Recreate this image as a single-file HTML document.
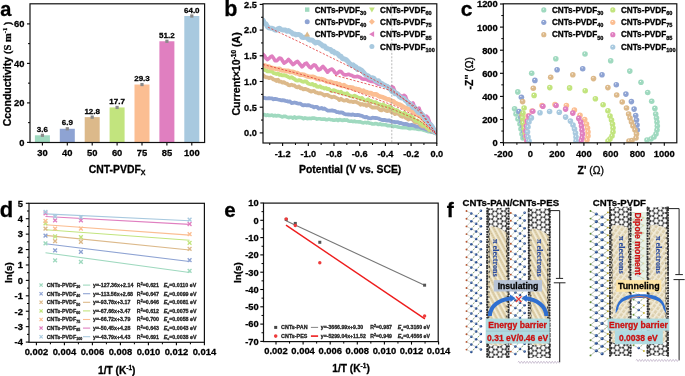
<!DOCTYPE html><html><head><meta charset="utf-8"><style>html,body{margin:0;padding:0;background:#fff;width:685px;height:376px;overflow:hidden}svg{display:block;will-change:transform}</style></head><body>
<svg width="685" height="376" viewBox="0 0 685 376" font-family='"Liberation Sans", sans-serif'>
<rect width="685" height="376" fill="#fff"/>
<defs>
<radialGradient id="sg30" cx="0.4" cy="0.35" r="0.7"><stop offset="0" stop-color="#ffffff"/><stop offset="0.25" stop-color="#9fd9bf"/><stop offset="1" stop-color="#9fd9bf"/></radialGradient>
<radialGradient id="sg40" cx="0.4" cy="0.35" r="0.7"><stop offset="0" stop-color="#ffffff"/><stop offset="0.25" stop-color="#8ea3d3"/><stop offset="1" stop-color="#8ea3d3"/></radialGradient>
<radialGradient id="sg50" cx="0.4" cy="0.35" r="0.7"><stop offset="0" stop-color="#ffffff"/><stop offset="0.25" stop-color="#dcb98a"/><stop offset="1" stop-color="#dcb98a"/></radialGradient>
<radialGradient id="sg60" cx="0.4" cy="0.35" r="0.7"><stop offset="0" stop-color="#ffffff"/><stop offset="0.25" stop-color="#c2e47e"/><stop offset="1" stop-color="#c2e47e"/></radialGradient>
<radialGradient id="sg75" cx="0.4" cy="0.35" r="0.7"><stop offset="0" stop-color="#ffffff"/><stop offset="0.25" stop-color="#fbbe92"/><stop offset="1" stop-color="#fbbe92"/></radialGradient>
<radialGradient id="sg85" cx="0.4" cy="0.35" r="0.7"><stop offset="0" stop-color="#ffffff"/><stop offset="0.25" stop-color="#e07fc0"/><stop offset="1" stop-color="#e07fc0"/></radialGradient>
<radialGradient id="sg100" cx="0.4" cy="0.35" r="0.7"><stop offset="0" stop-color="#ffffff"/><stop offset="0.25" stop-color="#a8c9df"/><stop offset="1" stop-color="#a8c9df"/></radialGradient>
</defs>
<rect x="34.90" y="135.29" width="15.00" height="7.11" fill="#9fd9bf" />
<rect x="40.80" y="133.69" width="3.20" height="3.20" fill="#8a8a8a" />
<text x="42.40" y="131.89" font-size="8" font-weight="bold" text-anchor="middle" fill="#000"  stroke="#000" stroke-width="0.28">3.6</text>
<line x1="42.40" y1="142.50" x2="42.40" y2="145.50" stroke="#000" stroke-width="1.1" />
<text x="42.40" y="156.20" font-size="9.4" font-weight="bold" text-anchor="middle" fill="#000"  stroke="#000" stroke-width="0.28">30</text>
<rect x="59.80" y="128.77" width="15.00" height="13.63" fill="#8ea3d3" />
<rect x="65.70" y="127.17" width="3.20" height="3.20" fill="#8a8a8a" />
<text x="67.30" y="125.37" font-size="8" font-weight="bold" text-anchor="middle" fill="#000"  stroke="#000" stroke-width="0.28">6.9</text>
<line x1="67.30" y1="142.50" x2="67.30" y2="145.50" stroke="#000" stroke-width="1.1" />
<text x="67.30" y="156.20" font-size="9.4" font-weight="bold" text-anchor="middle" fill="#000"  stroke="#000" stroke-width="0.28">40</text>
<rect x="84.70" y="117.12" width="15.00" height="25.28" fill="#dcb98a" />
<rect x="90.60" y="115.52" width="3.20" height="3.20" fill="#8a8a8a" />
<text x="92.20" y="113.72" font-size="8" font-weight="bold" text-anchor="middle" fill="#000"  stroke="#000" stroke-width="0.28">12.8</text>
<line x1="92.20" y1="142.50" x2="92.20" y2="145.50" stroke="#000" stroke-width="1.1" />
<text x="92.20" y="156.20" font-size="9.4" font-weight="bold" text-anchor="middle" fill="#000"  stroke="#000" stroke-width="0.28">50</text>
<rect x="109.60" y="107.44" width="15.00" height="34.96" fill="#c2e47e" />
<rect x="115.50" y="105.84" width="3.20" height="3.20" fill="#8a8a8a" />
<text x="117.10" y="104.04" font-size="8" font-weight="bold" text-anchor="middle" fill="#000"  stroke="#000" stroke-width="0.28">17.7</text>
<line x1="117.10" y1="142.50" x2="117.10" y2="145.50" stroke="#000" stroke-width="1.1" />
<text x="117.10" y="156.20" font-size="9.4" font-weight="bold" text-anchor="middle" fill="#000"  stroke="#000" stroke-width="0.28">60</text>
<rect x="134.50" y="84.53" width="15.00" height="57.87" fill="#fbbe92" />
<rect x="140.40" y="82.93" width="3.20" height="3.20" fill="#8a8a8a" />
<text x="142.00" y="81.13" font-size="8" font-weight="bold" text-anchor="middle" fill="#000"  stroke="#000" stroke-width="0.28">29.3</text>
<line x1="142.00" y1="142.50" x2="142.00" y2="145.50" stroke="#000" stroke-width="1.1" />
<text x="142.00" y="156.20" font-size="9.4" font-weight="bold" text-anchor="middle" fill="#000"  stroke="#000" stroke-width="0.28">75</text>
<rect x="159.40" y="41.28" width="15.00" height="101.12" fill="#e07fc0" />
<rect x="165.30" y="39.68" width="3.20" height="3.20" fill="#8a8a8a" />
<text x="166.90" y="37.88" font-size="8" font-weight="bold" text-anchor="middle" fill="#000"  stroke="#000" stroke-width="0.28">51.2</text>
<line x1="166.90" y1="142.50" x2="166.90" y2="145.50" stroke="#000" stroke-width="1.1" />
<text x="166.90" y="156.20" font-size="9.4" font-weight="bold" text-anchor="middle" fill="#000"  stroke="#000" stroke-width="0.28">85</text>
<rect x="184.30" y="16.00" width="15.00" height="126.40" fill="#a8c9df" />
<rect x="190.20" y="14.40" width="3.20" height="3.20" fill="#8a8a8a" />
<text x="191.80" y="12.60" font-size="8" font-weight="bold" text-anchor="middle" fill="#000"  stroke="#000" stroke-width="0.28">64.0</text>
<line x1="191.80" y1="142.50" x2="191.80" y2="145.50" stroke="#000" stroke-width="1.1" />
<text x="191.80" y="156.20" font-size="9.4" font-weight="bold" text-anchor="middle" fill="#000"  stroke="#000" stroke-width="0.28">100</text>
<rect x="30.00" y="3.80" width="174.60" height="138.70" fill="none" stroke="#111" stroke-width="1.2"/>
<line x1="27.00" y1="142.40" x2="30.00" y2="142.40" stroke="#000" stroke-width="1.1" />
<text x="24.40" y="145.80" font-size="9.4" font-weight="bold" text-anchor="end" fill="#000"  stroke="#000" stroke-width="0.28">0</text>
<line x1="27.00" y1="102.90" x2="30.00" y2="102.90" stroke="#000" stroke-width="1.1" />
<text x="24.40" y="106.30" font-size="9.4" font-weight="bold" text-anchor="end" fill="#000"  stroke="#000" stroke-width="0.28">20</text>
<line x1="27.00" y1="63.40" x2="30.00" y2="63.40" stroke="#000" stroke-width="1.1" />
<text x="24.40" y="66.80" font-size="9.4" font-weight="bold" text-anchor="end" fill="#000"  stroke="#000" stroke-width="0.28">40</text>
<line x1="27.00" y1="23.90" x2="30.00" y2="23.90" stroke="#000" stroke-width="1.1" />
<text x="24.40" y="27.30" font-size="9.4" font-weight="bold" text-anchor="end" fill="#000"  stroke="#000" stroke-width="0.28">60</text>
<line x1="28.00" y1="122.65" x2="30.00" y2="122.65" stroke="#000" stroke-width="1.0" />
<line x1="28.00" y1="83.15" x2="30.00" y2="83.15" stroke="#000" stroke-width="1.0" />
<line x1="28.00" y1="43.65" x2="30.00" y2="43.65" stroke="#000" stroke-width="1.0" />
<text transform="translate(11.2 126.3) rotate(-90)" font-size="10.5" font-weight="bold" fill="#000" stroke="#000" stroke-width="0.28">Cconductivity <tspan font-family='"Liberation Serif", serif'>(S m<tspan font-size="6.5" dy="-4">-1</tspan><tspan dy="4"> )</tspan></tspan></text>
<text x="88.8" y="172.7" font-size="10.4" font-weight="bold" stroke="#000" stroke-width="0.28">CNT-PVDF<tspan font-size="7" dy="2.7">X</tspan></text>
<text x="0.30" y="15.50" font-size="20" font-weight="bold" text-anchor="start" fill="#000"  stroke="#000" stroke-width="0.28">a</text>
<defs><clipPath id="cb"><rect x="263" y="3.8" width="173.8" height="139.2"/></clipPath></defs>
<g clip-path="url(#cb)">
<polyline points="263.0,114.8 264.5,114.6 266.0,115.5 267.5,114.8 269.0,115.5 270.5,115.4 272.0,115.1 273.5,115.9 275.0,115.3 276.5,116.0 278.0,115.6 279.5,115.8 281.0,116.4 282.5,117.0 284.0,116.2 285.5,116.4 287.0,117.1 288.5,117.7 290.0,117.3 291.5,117.2 293.0,118.1 294.5,116.9 296.0,118.2 297.5,117.5 299.0,117.4 300.5,117.5 302.0,117.8 303.5,118.6 305.0,117.8 306.5,118.4 308.0,118.6 309.5,118.3 311.0,118.6 312.5,118.0 314.0,118.1 315.5,118.4 317.0,119.1 318.5,118.8 320.0,118.8 321.5,119.2 323.0,119.1 324.5,119.0 326.0,119.7 327.5,119.7 329.0,119.1 330.5,119.7 332.0,119.7 333.5,120.2 335.0,120.1 336.5,119.6 338.0,120.6 339.5,119.5 341.0,120.0 342.5,120.5 344.0,119.8 345.5,120.3 347.0,119.9 348.5,120.9 350.0,121.2 351.5,121.1 353.0,121.7 354.5,121.1 356.0,121.8 357.5,121.8 359.0,121.9 360.5,121.9 362.0,122.6 363.5,122.9 365.0,122.4 366.5,122.9 368.0,122.2 369.5,123.2 371.0,123.3 372.5,124.0 374.0,124.0 375.5,123.5 377.0,123.8 378.5,124.5 380.0,123.8 381.5,124.6 383.0,124.6 384.5,124.7 386.0,124.9 387.5,125.7 389.0,125.4 390.5,125.7 392.0,126.0 393.5,126.6 395.0,126.1 396.5,126.6 398.0,126.9 399.5,127.3 401.0,127.5 402.5,127.7 404.0,127.4 405.5,127.7 407.0,127.8 408.5,128.4 410.0,128.7 411.5,128.2 413.0,128.4 414.5,128.6 416.0,128.8 417.5,129.2 419.0,129.5 420.5,129.4 422.0,129.5 423.5,130.2 425.0,130.5 426.5,131.0 428.0,131.6 429.5,131.7 431.0,131.9 432.5,132.3 434.0,132.7 435.5,132.5" fill="none" stroke="#9fd9bf" stroke-width="3.6" stroke-linejoin="round" stroke-linecap="round"/>
<polyline points="263.0,97.8 264.5,97.9 266.0,98.3 267.5,98.4 269.0,98.2 270.5,98.4 272.0,98.3 273.5,99.3 275.0,98.8 276.5,99.1 278.0,99.5 279.5,99.8 281.0,100.3 282.5,100.2 284.0,100.4 285.5,100.8 287.0,101.1 288.5,101.7 290.0,101.5 291.5,103.0 293.0,102.9 294.5,102.5 296.0,102.9 297.5,103.3 299.0,103.6 300.5,103.6 302.0,104.9 303.5,105.4 305.0,105.0 306.5,105.3 308.0,105.1 309.5,105.4 311.0,106.1 312.5,106.3 314.0,107.4 315.5,106.8 317.0,106.9 318.5,108.5 320.0,108.3 321.5,108.0 323.0,108.9 324.5,108.5 326.0,109.5 327.5,110.5 329.0,110.6 330.5,110.7 332.0,110.4 333.5,110.9 335.0,110.9 336.5,112.1 338.0,112.1 339.5,112.7 341.0,112.4 342.5,112.6 344.0,113.7 345.5,114.3 347.0,114.3 348.5,114.5 350.0,114.7 351.5,114.9 353.0,114.4 354.5,115.0 356.0,115.1 357.5,114.8 359.0,115.1 360.5,115.7 362.0,115.9 363.5,116.7 365.0,117.3 366.5,116.9 368.0,117.8 369.5,118.1 371.0,118.3 372.5,117.7 374.0,117.8 375.5,118.0 377.0,118.2 378.5,118.5 380.0,119.3 381.5,119.8 383.0,120.0 384.5,119.9 386.0,120.3 387.5,120.7 389.0,120.3 390.5,121.1 392.0,121.6 393.5,121.8 395.0,122.0 396.5,122.1 398.0,122.2 399.5,123.0 401.0,122.9 402.5,123.6 404.0,124.1 405.5,123.9 407.0,124.2 408.5,125.0 410.0,125.1 411.5,125.0 413.0,125.2 414.5,125.6 416.0,126.5 417.5,126.7 419.0,126.5 420.5,127.5 422.0,128.2 423.5,128.4 425.0,128.7 426.5,129.5 428.0,129.7 429.5,130.2 431.0,131.5 432.5,131.8 434.0,132.3 435.5,133.2" fill="none" stroke="#8ea3d3" stroke-width="3.8" stroke-linejoin="round" stroke-linecap="round"/>
<polyline points="263.0,75.1 264.5,76.5 266.0,77.3 267.5,77.3 269.0,78.2 270.5,77.5 272.0,78.2 273.5,79.5 275.0,79.9 276.5,81.0 278.0,79.8 279.5,81.7 281.0,81.7 282.5,82.7 284.0,82.1 285.5,83.4 287.0,83.6 288.5,85.1 290.0,85.3 291.5,84.6 293.0,85.4 294.5,85.5 296.0,87.0 297.5,87.4 299.0,86.4 300.5,88.3 302.0,88.2 303.5,89.4 305.0,88.9 306.5,89.4 308.0,89.8 309.5,90.8 311.0,91.6 312.5,91.1 314.0,90.9 315.5,92.3 317.0,92.6 318.5,93.4 320.0,93.2 321.5,93.6 323.0,94.4 324.5,95.5 326.0,94.8 327.5,94.9 329.0,95.9 330.5,96.5 332.0,97.3 333.5,96.7 335.0,97.1 336.5,97.9 338.0,98.6 339.5,100.0 341.0,98.8 342.5,99.8 344.0,100.7 345.5,100.4 347.0,99.9 348.5,101.2 350.0,101.7 351.5,101.4 353.0,102.1 354.5,101.6 356.0,101.8 357.5,102.7 359.0,103.2 360.5,104.7 362.0,104.0 363.5,104.8 365.0,104.5 366.5,105.9 368.0,105.0 369.5,104.9 371.0,106.7 372.5,107.6 374.0,107.3 375.5,107.5 377.0,107.5 378.5,108.4 380.0,109.9 381.5,110.4 383.0,108.7 384.5,109.8 386.0,110.7 387.5,111.2 389.0,110.2 390.5,111.1 392.0,112.6 393.5,112.5 395.0,114.1 396.5,113.3 398.0,113.6 399.5,114.9 401.0,116.2 402.5,116.9 404.0,115.6 405.5,117.8 407.0,118.4 408.5,119.6 410.0,117.6 411.5,119.0 413.0,119.9 414.5,122.0 416.0,122.5 417.5,121.8 419.0,123.4 420.5,125.2 422.0,126.3 423.5,126.6 425.0,126.0 426.5,128.2 428.0,128.9 429.5,130.2 431.0,128.9 432.5,130.0 434.0,132.1 435.5,132.9" fill="none" stroke="#dcb98a" stroke-width="3.8" stroke-linejoin="round" stroke-linecap="round"/>
<polyline points="263.0,67.9 264.5,69.9 266.0,70.3 267.5,71.4 269.0,71.2 270.5,71.5 272.0,71.2 273.5,73.1 275.0,73.4 276.5,74.0 278.0,73.5 279.5,74.9 281.0,74.8 282.5,75.4 284.0,75.2 285.5,75.6 287.0,76.2 288.5,77.1 290.0,77.8 291.5,77.2 293.0,78.2 294.5,79.0 296.0,80.4 297.5,80.6 299.0,80.1 300.5,80.5 302.0,81.5 303.5,81.8 305.0,81.3 306.5,81.7 308.0,83.5 309.5,84.0 311.0,84.3 312.5,83.9 314.0,85.3 315.5,84.9 317.0,86.7 318.5,86.9 320.0,86.2 321.5,87.5 323.0,87.6 324.5,88.5 326.0,88.0 327.5,89.2 329.0,89.0 330.5,90.5 332.0,91.1 333.5,90.2 335.0,90.6 336.5,91.3 338.0,91.7 339.5,92.6 341.0,91.7 342.5,93.4 344.0,93.5 345.5,94.1 347.0,93.2 348.5,95.0 350.0,95.8 351.5,96.3 353.0,96.5 354.5,95.6 356.0,96.4 357.5,97.4 359.0,97.8 360.5,98.9 362.0,97.9 363.5,99.6 365.0,100.4 366.5,100.5 368.0,99.3 369.5,101.1 371.0,101.0 372.5,101.9 374.0,102.3 375.5,102.1 377.0,103.1 378.5,104.0 380.0,104.4 381.5,105.7 383.0,104.3 384.5,105.5 386.0,106.1 387.5,107.4 389.0,106.2 390.5,107.0 392.0,108.3 393.5,109.2 395.0,110.6 396.5,109.9 398.0,111.1 399.5,112.0 401.0,113.0 402.5,114.2 404.0,112.8 405.5,113.7 407.0,115.6 408.5,115.4 410.0,115.5 411.5,116.7 413.0,117.2 414.5,119.6 416.0,121.0 417.5,120.4 419.0,121.9 420.5,123.3 422.0,123.7 423.5,125.5 425.0,125.2 426.5,127.0 428.0,128.3 429.5,129.7 431.0,129.0 432.5,130.8 434.0,131.8 435.5,133.2" fill="none" stroke="#c2e47e" stroke-width="3.8" stroke-linejoin="round" stroke-linecap="round"/>
<polyline points="263.0,65.4 264.5,65.5 266.0,66.0 267.5,66.6 269.0,66.6 270.5,67.9 272.0,67.9 273.5,68.3 275.0,68.6 276.5,69.0 278.0,69.1 279.5,68.8 281.0,70.2 282.5,70.5 284.0,70.5 285.5,70.8 287.0,71.3 288.5,70.8 290.0,72.1 291.5,71.8 293.0,71.9 294.5,72.5 296.0,73.4 297.5,73.0 299.0,74.1 300.5,74.8 302.0,74.5 303.5,74.8 305.0,75.3 306.5,76.0 308.0,76.5 309.5,76.7 311.0,77.1 312.5,76.7 314.0,77.2 315.5,77.8 317.0,78.9 318.5,78.7 320.0,79.4 321.5,79.1 323.0,79.5 324.5,80.2 326.0,81.2 327.5,81.6 329.0,82.0 330.5,81.8 332.0,82.6 333.5,82.9 335.0,83.3 336.5,83.2 338.0,84.7 339.5,84.1 341.0,85.6 342.5,85.9 344.0,85.1 345.5,86.1 347.0,87.0 348.5,87.6 350.0,87.3 351.5,87.5 353.0,87.8 354.5,89.3 356.0,88.7 357.5,89.6 359.0,89.4 360.5,90.4 362.0,91.4 363.5,90.7 365.0,92.0 366.5,92.0 368.0,93.0 369.5,93.1 371.0,93.0 372.5,94.4 374.0,94.4 375.5,94.3 377.0,94.8 378.5,96.0 380.0,96.5 381.5,96.9 383.0,97.3 384.5,98.0 386.0,98.6 387.5,99.5 389.0,99.4 390.5,100.5 392.0,101.3 393.5,101.4 395.0,102.9 396.5,103.4 398.0,104.3 399.5,104.6 401.0,105.4 402.5,106.2 404.0,107.4 405.5,107.8 407.0,108.4 408.5,109.2 410.0,109.8 411.5,110.5 413.0,111.5 414.5,113.0 416.0,113.4 417.5,114.9 419.0,115.2 420.5,116.3 422.0,118.1 423.5,119.5 425.0,121.2 426.5,123.3 428.0,124.8 429.5,126.4 431.0,127.8 432.5,129.6 434.0,131.2 435.5,132.5" fill="none" stroke="#fbbe92" stroke-width="4.6" stroke-linejoin="round" stroke-linecap="round"/>
<polyline points="263.0,54.2 264.5,55.7 266.0,58.3 267.5,59.6 269.0,58.4 270.5,56.9 272.0,56.1 273.5,58.0 275.0,60.7 276.5,60.8 278.0,59.6 279.5,58.0 281.0,58.4 282.5,60.8 284.0,63.1 285.5,62.2 287.0,61.1 288.5,59.4 290.0,60.9 291.5,62.9 293.0,64.7 294.5,63.5 296.0,62.1 297.5,61.4 299.0,63.2 300.5,65.0 302.0,66.9 303.5,65.5 305.0,63.6 306.5,63.1 308.0,65.2 309.5,67.1 311.0,67.8 312.5,66.1 314.0,64.8 315.5,65.5 317.0,67.7 318.5,70.0 320.0,69.4 321.5,67.8 323.0,66.4 324.5,68.1 326.0,70.1 327.5,72.2 329.0,70.6 330.5,69.4 332.0,69.1 333.5,70.5 335.0,72.6 336.5,73.7 338.0,72.8 339.5,71.4 341.0,71.6 342.5,73.2 344.0,74.7 345.5,74.9 347.0,74.7 348.5,74.2 350.0,74.9 351.5,75.3 353.0,76.2 354.5,76.7 356.0,76.7 357.5,76.2 359.0,77.1 360.5,77.5 362.0,78.8 363.5,79.2 365.0,79.1 366.5,79.3 368.0,80.4 369.5,80.9 371.0,81.4 372.5,81.4 374.0,81.7 375.5,82.3 377.0,83.5 378.5,84.3 380.0,84.6 381.5,84.7 383.0,84.4 384.5,85.1 386.0,85.4 387.5,86.4 389.0,87.4 390.5,88.5 392.0,86.7 393.5,87.8 395.0,91.7 396.5,92.7 398.0,93.8 399.5,94.9 401.0,95.9 402.5,97.0 404.0,95.3 405.5,96.4 407.0,100.5 408.5,101.8 410.0,103.1 411.5,104.4 413.0,102.9 414.5,107.0 416.0,108.3 417.5,109.6 419.0,108.1 420.5,112.3 422.0,114.0 423.5,115.6 425.0,117.3 426.5,116.2 428.0,117.8 429.5,122.2 431.0,124.3 432.5,126.5 434.0,128.8 435.5,131.1" fill="none" stroke="#e07fc0" stroke-width="3.6" stroke-linejoin="round" stroke-linecap="round"/>
<polyline points="263.0,20.1 264.5,23.3 266.0,23.8 267.5,26.8 269.0,27.8 270.5,28.2 272.0,28.3 273.5,28.9 275.0,30.0 276.5,30.2 278.0,28.6 279.5,28.3 281.0,29.5 282.5,30.0 284.0,30.0 285.5,30.1 287.0,31.3 288.5,30.6 290.0,31.6 291.5,32.4 293.0,34.0 294.5,33.9 296.0,34.9 297.5,34.6 299.0,34.6 300.5,35.2 302.0,37.3 303.5,37.4 305.0,37.2 306.5,37.3 308.0,38.9 309.5,39.9 311.0,40.0 312.5,40.3 314.0,41.8 315.5,42.9 317.0,42.2 318.5,42.4 320.0,43.7 321.5,44.7 323.0,46.1 324.5,45.9 326.0,48.0 327.5,48.7 329.0,49.1 330.5,49.4 332.0,51.7 333.5,51.3 335.0,53.1 336.5,53.0 338.0,54.0 339.5,56.2 341.0,56.3 342.5,58.7 344.0,58.8 345.5,59.3 347.0,60.5 348.5,62.1 350.0,63.8 351.5,65.4 353.0,64.8 354.5,66.3 356.0,66.9 357.5,69.4 359.0,68.8 360.5,69.6 362.0,70.6 363.5,72.3 365.0,74.3 366.5,75.2 368.0,75.8 369.5,77.2 371.0,78.0 372.5,77.7 374.0,78.3 375.5,80.7 377.0,81.2 378.5,80.7 380.0,82.8 381.5,83.3 383.0,84.3 384.5,85.2 386.0,85.9 387.5,86.6 389.0,88.2 390.5,89.4 392.0,91.6 393.5,91.0 395.0,93.8 396.5,93.3 398.0,94.7 399.5,96.7 401.0,97.8 402.5,98.1 404.0,98.4 405.5,100.4 407.0,101.5 408.5,103.9 410.0,103.7 411.5,105.4 413.0,107.7 414.5,107.3 416.0,109.4 417.5,111.5 419.0,112.7 420.5,112.6 422.0,114.3 423.5,116.0 425.0,119.3 426.5,119.7 428.0,122.3 429.5,124.2 431.0,125.2 432.5,127.3 434.0,130.9 435.5,132.5" fill="none" stroke="#a8c9df" stroke-width="5.0" stroke-linejoin="round" stroke-linecap="round"/>
<polyline points="268.0,27.2 298.0,41.3 350.0,66.8 391.0,89.0 420.0,112.0 436.0,133.5" fill="none" stroke="#e03a3a" stroke-width="0.8" stroke-dasharray="2.2,1.6"/>
<polyline points="335.0,75.5 345.0,78.0 391.0,90.5 420.0,110.0 436.0,133.5" fill="none" stroke="#e03a3a" stroke-width="0.8" stroke-dasharray="2.2,1.6"/>
<polyline points="263.0,64.5 300.0,74.0 350.0,89.3 395.0,106.0 420.0,118.0 436.0,134.0" fill="none" stroke="#e03a3a" stroke-width="0.8" stroke-dasharray="2.2,1.6"/>
<polyline points="330.0,91.5 345.0,95.5 391.0,108.5 420.0,121.0 436.0,134.0" fill="none" stroke="#e03a3a" stroke-width="0.8" stroke-dasharray="2.2,1.6"/>
</g>
<line x1="391.80" y1="3.80" x2="391.80" y2="143.00" stroke="#888" stroke-width="0.6" stroke-dasharray="2,1.5"/>
<rect x="263.00" y="3.80" width="173.80" height="139.20" fill="none" stroke="#111" stroke-width="1.2"/>
<line x1="259.70" y1="132.90" x2="263.00" y2="132.90" stroke="#000" stroke-width="1.1" />
<text x="256.90" y="136.20" font-size="9.2" font-weight="bold" text-anchor="end" fill="#000"  stroke="#000" stroke-width="0.28">0.0</text>
<line x1="259.70" y1="107.20" x2="263.00" y2="107.20" stroke="#000" stroke-width="1.1" />
<text x="256.90" y="110.50" font-size="9.2" font-weight="bold" text-anchor="end" fill="#000"  stroke="#000" stroke-width="0.28">0.5</text>
<line x1="259.70" y1="81.50" x2="263.00" y2="81.50" stroke="#000" stroke-width="1.1" />
<text x="256.90" y="84.80" font-size="9.2" font-weight="bold" text-anchor="end" fill="#000"  stroke="#000" stroke-width="0.28">1.0</text>
<line x1="259.70" y1="55.80" x2="263.00" y2="55.80" stroke="#000" stroke-width="1.1" />
<text x="256.90" y="59.10" font-size="9.2" font-weight="bold" text-anchor="end" fill="#000"  stroke="#000" stroke-width="0.28">1.5</text>
<line x1="259.70" y1="30.10" x2="263.00" y2="30.10" stroke="#000" stroke-width="1.1" />
<text x="256.90" y="33.40" font-size="9.2" font-weight="bold" text-anchor="end" fill="#000"  stroke="#000" stroke-width="0.28">2.0</text>
<line x1="259.70" y1="4.40" x2="263.00" y2="4.40" stroke="#000" stroke-width="1.1" />
<text x="256.90" y="7.70" font-size="9.2" font-weight="bold" text-anchor="end" fill="#000"  stroke="#000" stroke-width="0.28">2.5</text>
<line x1="261.00" y1="120.05" x2="263.00" y2="120.05" stroke="#000" stroke-width="1.0" />
<line x1="261.00" y1="94.35" x2="263.00" y2="94.35" stroke="#000" stroke-width="1.0" />
<line x1="261.00" y1="68.65" x2="263.00" y2="68.65" stroke="#000" stroke-width="1.0" />
<line x1="261.00" y1="42.95" x2="263.00" y2="42.95" stroke="#000" stroke-width="1.0" />
<line x1="261.00" y1="17.25" x2="263.00" y2="17.25" stroke="#000" stroke-width="1.0" />
<line x1="282.60" y1="143.00" x2="282.60" y2="146.00" stroke="#000" stroke-width="1.1" />
<text x="282.60" y="156.50" font-size="9.2" font-weight="bold" text-anchor="middle" fill="#000"  stroke="#000" stroke-width="0.28">-1.2</text>
<line x1="308.30" y1="143.00" x2="308.30" y2="146.00" stroke="#000" stroke-width="1.1" />
<text x="308.30" y="156.50" font-size="9.2" font-weight="bold" text-anchor="middle" fill="#000"  stroke="#000" stroke-width="0.28">-1.0</text>
<line x1="334.00" y1="143.00" x2="334.00" y2="146.00" stroke="#000" stroke-width="1.1" />
<text x="334.00" y="156.50" font-size="9.2" font-weight="bold" text-anchor="middle" fill="#000"  stroke="#000" stroke-width="0.28">-0.8</text>
<line x1="359.70" y1="143.00" x2="359.70" y2="146.00" stroke="#000" stroke-width="1.1" />
<text x="359.70" y="156.50" font-size="9.2" font-weight="bold" text-anchor="middle" fill="#000"  stroke="#000" stroke-width="0.28">-0.6</text>
<line x1="385.40" y1="143.00" x2="385.40" y2="146.00" stroke="#000" stroke-width="1.1" />
<text x="385.40" y="156.50" font-size="9.2" font-weight="bold" text-anchor="middle" fill="#000"  stroke="#000" stroke-width="0.28">-0.4</text>
<line x1="411.10" y1="143.00" x2="411.10" y2="146.00" stroke="#000" stroke-width="1.1" />
<text x="411.10" y="156.50" font-size="9.2" font-weight="bold" text-anchor="middle" fill="#000"  stroke="#000" stroke-width="0.28">-0.2</text>
<line x1="436.80" y1="143.00" x2="436.80" y2="146.00" stroke="#000" stroke-width="1.1" />
<text x="436.80" y="156.50" font-size="9.2" font-weight="bold" text-anchor="middle" fill="#000"  stroke="#000" stroke-width="0.28">0.0</text>
<line x1="269.75" y1="143.00" x2="269.75" y2="145.00" stroke="#000" stroke-width="1.0" />
<line x1="295.45" y1="143.00" x2="295.45" y2="145.00" stroke="#000" stroke-width="1.0" />
<line x1="321.15" y1="143.00" x2="321.15" y2="145.00" stroke="#000" stroke-width="1.0" />
<line x1="346.85" y1="143.00" x2="346.85" y2="145.00" stroke="#000" stroke-width="1.0" />
<line x1="372.55" y1="143.00" x2="372.55" y2="145.00" stroke="#000" stroke-width="1.0" />
<line x1="398.25" y1="143.00" x2="398.25" y2="145.00" stroke="#000" stroke-width="1.0" />
<line x1="423.95" y1="143.00" x2="423.95" y2="145.00" stroke="#000" stroke-width="1.0" />
<rect x="305.00" y="7.40" width="4.40" height="4.40" fill="#9fd9bf" />
<text x="314.7" y="12.50" font-size="8.2" font-weight="bold" stroke="#000" stroke-width="0.28">CNTs-PVDF<tspan font-size="5.6" dy="2.4">30</tspan></text>
<circle cx="307.2" cy="21.8" r="2.5" fill="#8ea3d3"/>
<text x="314.7" y="24.70" font-size="8.2" font-weight="bold" stroke="#000" stroke-width="0.28">CNTs-PVDF<tspan font-size="5.6" dy="2.4">40</tspan></text>
<polygon points="307.2,31.400000000000002 310.09999999999997,36.400000000000006 304.3,36.400000000000006" fill="#dcb98a"/>
<text x="314.7" y="37.10" font-size="8.2" font-weight="bold" stroke="#000" stroke-width="0.28">CNTs-PVDF<tspan font-size="5.6" dy="2.4">50</tspan></text>
<polygon points="371.9,12.399999999999999 374.79999999999995,7.3999999999999995 369.0,7.3999999999999995" fill="#c2e47e"/>
<text x="380.1" y="12.50" font-size="8.2" font-weight="bold" stroke="#000" stroke-width="0.28">CNTs-PVDF<tspan font-size="5.6" dy="2.4">60</tspan></text>
<polygon points="371.9,18.8 374.9,21.8 371.9,24.8 368.9,21.8" fill="#fbbe92"/>
<text x="380.1" y="24.70" font-size="8.2" font-weight="bold" stroke="#000" stroke-width="0.28">CNTs-PVDF<tspan font-size="5.6" dy="2.4">75</tspan></text>
<polygon points="369.09999999999997,34.2 374.09999999999997,31.300000000000004 374.09999999999997,37.1" fill="#e07fc0"/>
<text x="380.1" y="37.10" font-size="8.2" font-weight="bold" stroke="#000" stroke-width="0.28">CNTs-PVDF<tspan font-size="5.6" dy="2.4">85</tspan></text>
<circle cx="371.9" cy="46.6" r="2.5" fill="#a8c9df"/>
<text x="380.1" y="49.50" font-size="8.2" font-weight="bold" stroke="#000" stroke-width="0.28">CNTs-PVDF<tspan font-size="5.6" dy="2.4">100</tspan></text>
<text transform="translate(240.2 115.6) rotate(-90)" font-size="10.6" font-weight="bold" stroke="#000" stroke-width="0.28">Current×10<tspan font-size="6.5" dy="-4">-10</tspan><tspan dy="4"> (A)</tspan></text>
<text x="350.20" y="173.40" font-size="10.4" font-weight="bold" text-anchor="middle" fill="#000"  stroke="#000" stroke-width="0.28">Potential (V vs. SCE)</text>
<text x="224.30" y="15.90" font-size="21.5" font-weight="bold" text-anchor="start" fill="#000"  stroke="#000" stroke-width="0.28">b</text>
<defs><clipPath id="cc"><rect x="503.3" y="3.8" width="173.49999999999994" height="139.0"/></clipPath></defs>
<g clip-path="url(#cc)">
<circle cx="514.6" cy="108.8" r="2.8" fill="url(#sg30)"/>
<circle cx="517.8" cy="91.9" r="2.8" fill="url(#sg30)"/>
<circle cx="531.7" cy="73.2" r="2.8" fill="url(#sg30)"/>
<circle cx="555.8" cy="58.8" r="2.8" fill="url(#sg30)"/>
<circle cx="585.0" cy="54.0" r="2.8" fill="url(#sg30)"/>
<circle cx="610.7" cy="60.7" r="2.8" fill="url(#sg30)"/>
<circle cx="629.8" cy="71.1" r="2.8" fill="url(#sg30)"/>
<circle cx="641.0" cy="82.3" r="2.8" fill="url(#sg30)"/>
<circle cx="647.7" cy="92.5" r="2.8" fill="url(#sg30)"/>
<circle cx="651.7" cy="101.2" r="2.8" fill="url(#sg30)"/>
<circle cx="654.9" cy="108.4" r="2.8" fill="url(#sg30)"/>
<circle cx="655.7" cy="114.0" r="2.8" fill="url(#sg30)"/>
<circle cx="656.5" cy="118.0" r="2.8" fill="url(#sg30)"/>
<circle cx="657.0" cy="122.0" r="2.8" fill="url(#sg30)"/>
<circle cx="657.3" cy="126.0" r="2.8" fill="url(#sg30)"/>
<circle cx="657.0" cy="130.0" r="2.8" fill="url(#sg30)"/>
<circle cx="656.0" cy="134.0" r="2.8" fill="url(#sg30)"/>
<circle cx="654.0" cy="137.0" r="2.8" fill="url(#sg30)"/>
<circle cx="651.0" cy="139.0" r="2.8" fill="url(#sg30)"/>
<circle cx="647.0" cy="140.0" r="2.8" fill="url(#sg30)"/>
<circle cx="516.0" cy="114.0" r="2.8" fill="url(#sg30)"/>
<circle cx="518.0" cy="119.0" r="2.8" fill="url(#sg30)"/>
<circle cx="520.0" cy="124.0" r="2.8" fill="url(#sg30)"/>
<circle cx="521.0" cy="129.0" r="2.8" fill="url(#sg30)"/>
<circle cx="522.0" cy="134.0" r="2.8" fill="url(#sg30)"/>
<circle cx="523.0" cy="138.0" r="2.8" fill="url(#sg30)"/>
<circle cx="519.0" cy="111.5" r="2.8" fill="url(#sg40)"/>
<circle cx="521.4" cy="97.2" r="2.8" fill="url(#sg40)"/>
<circle cx="534.9" cy="80.4" r="2.8" fill="url(#sg40)"/>
<circle cx="557.1" cy="69.8" r="2.8" fill="url(#sg40)"/>
<circle cx="582.7" cy="68.7" r="2.8" fill="url(#sg40)"/>
<circle cx="602.0" cy="74.8" r="2.8" fill="url(#sg40)"/>
<circle cx="616.3" cy="84.7" r="2.8" fill="url(#sg40)"/>
<circle cx="625.9" cy="94.1" r="2.8" fill="url(#sg40)"/>
<circle cx="631.4" cy="101.6" r="2.8" fill="url(#sg40)"/>
<circle cx="634.1" cy="109.1" r="2.8" fill="url(#sg40)"/>
<circle cx="635.7" cy="115.5" r="2.8" fill="url(#sg40)"/>
<circle cx="636.5" cy="120.0" r="2.8" fill="url(#sg40)"/>
<circle cx="637.0" cy="125.0" r="2.8" fill="url(#sg40)"/>
<circle cx="637.3" cy="130.0" r="2.8" fill="url(#sg40)"/>
<circle cx="521.0" cy="117.0" r="2.8" fill="url(#sg40)"/>
<circle cx="522.0" cy="122.0" r="2.8" fill="url(#sg40)"/>
<circle cx="523.0" cy="127.0" r="2.8" fill="url(#sg40)"/>
<circle cx="524.0" cy="132.0" r="2.8" fill="url(#sg40)"/>
<circle cx="525.0" cy="137.0" r="2.8" fill="url(#sg40)"/>
<circle cx="522.6" cy="101.6" r="2.8" fill="url(#sg50)"/>
<circle cx="533.3" cy="88.2" r="2.8" fill="url(#sg50)"/>
<circle cx="550.7" cy="77.2" r="2.8" fill="url(#sg50)"/>
<circle cx="572.8" cy="74.8" r="2.8" fill="url(#sg50)"/>
<circle cx="593.5" cy="78.6" r="2.8" fill="url(#sg50)"/>
<circle cx="607.9" cy="87.6" r="2.8" fill="url(#sg50)"/>
<circle cx="616.7" cy="95.0" r="2.8" fill="url(#sg50)"/>
<circle cx="622.2" cy="102.0" r="2.8" fill="url(#sg50)"/>
<circle cx="626.5" cy="108.0" r="2.8" fill="url(#sg50)"/>
<circle cx="628.6" cy="114.0" r="2.8" fill="url(#sg50)"/>
<circle cx="630.0" cy="118.0" r="2.8" fill="url(#sg50)"/>
<circle cx="631.5" cy="122.0" r="2.8" fill="url(#sg50)"/>
<circle cx="633.0" cy="126.0" r="2.8" fill="url(#sg50)"/>
<circle cx="635.0" cy="130.0" r="2.8" fill="url(#sg50)"/>
<circle cx="636.5" cy="134.0" r="2.8" fill="url(#sg50)"/>
<circle cx="636.0" cy="138.0" r="2.8" fill="url(#sg50)"/>
<circle cx="632.0" cy="140.5" r="2.8" fill="url(#sg50)"/>
<circle cx="629.0" cy="141.0" r="2.8" fill="url(#sg50)"/>
<circle cx="522.0" cy="115.0" r="2.8" fill="url(#sg50)"/>
<circle cx="523.0" cy="120.0" r="2.8" fill="url(#sg50)"/>
<circle cx="524.0" cy="125.0" r="2.8" fill="url(#sg50)"/>
<circle cx="525.0" cy="130.0" r="2.8" fill="url(#sg50)"/>
<circle cx="526.0" cy="135.0" r="2.8" fill="url(#sg50)"/>
<circle cx="527.0" cy="140.0" r="2.8" fill="url(#sg50)"/>
<circle cx="524.1" cy="108.0" r="2.8" fill="url(#sg60)"/>
<circle cx="534.1" cy="95.4" r="2.8" fill="url(#sg60)"/>
<circle cx="549.8" cy="87.6" r="2.8" fill="url(#sg60)"/>
<circle cx="569.6" cy="87.9" r="2.8" fill="url(#sg60)"/>
<circle cx="585.2" cy="90.7" r="2.8" fill="url(#sg60)"/>
<circle cx="595.4" cy="98.8" r="2.8" fill="url(#sg60)"/>
<circle cx="603.1" cy="104.7" r="2.8" fill="url(#sg60)"/>
<circle cx="607.9" cy="110.7" r="2.8" fill="url(#sg60)"/>
<circle cx="610.0" cy="116.0" r="2.8" fill="url(#sg60)"/>
<circle cx="611.5" cy="120.0" r="2.8" fill="url(#sg60)"/>
<circle cx="612.5" cy="124.0" r="2.8" fill="url(#sg60)"/>
<circle cx="613.0" cy="128.0" r="2.8" fill="url(#sg60)"/>
<circle cx="613.0" cy="132.0" r="2.8" fill="url(#sg60)"/>
<circle cx="612.0" cy="136.0" r="2.8" fill="url(#sg60)"/>
<circle cx="610.0" cy="139.0" r="2.8" fill="url(#sg60)"/>
<circle cx="608.0" cy="141.0" r="2.8" fill="url(#sg60)"/>
<circle cx="523.0" cy="113.0" r="2.8" fill="url(#sg60)"/>
<circle cx="522.5" cy="118.0" r="2.8" fill="url(#sg60)"/>
<circle cx="523.0" cy="123.0" r="2.8" fill="url(#sg60)"/>
<circle cx="524.0" cy="128.0" r="2.8" fill="url(#sg60)"/>
<circle cx="525.0" cy="133.0" r="2.8" fill="url(#sg60)"/>
<circle cx="526.0" cy="138.0" r="2.8" fill="url(#sg60)"/>
<circle cx="532.0" cy="111.0" r="2.8" fill="url(#sg75)"/>
<circle cx="542.0" cy="105.5" r="2.8" fill="url(#sg75)"/>
<circle cx="555.0" cy="104.5" r="2.8" fill="url(#sg75)"/>
<circle cx="566.4" cy="105.5" r="2.8" fill="url(#sg75)"/>
<circle cx="574.4" cy="110.0" r="2.8" fill="url(#sg75)"/>
<circle cx="580.0" cy="115.2" r="2.8" fill="url(#sg75)"/>
<circle cx="584.7" cy="119.5" r="2.8" fill="url(#sg75)"/>
<circle cx="586.5" cy="124.0" r="2.8" fill="url(#sg75)"/>
<circle cx="587.5" cy="128.0" r="2.8" fill="url(#sg75)"/>
<circle cx="588.0" cy="132.0" r="2.8" fill="url(#sg75)"/>
<circle cx="588.0" cy="136.0" r="2.8" fill="url(#sg75)"/>
<circle cx="587.0" cy="140.0" r="2.8" fill="url(#sg75)"/>
<circle cx="528.0" cy="116.0" r="2.8" fill="url(#sg75)"/>
<circle cx="527.0" cy="121.0" r="2.8" fill="url(#sg75)"/>
<circle cx="526.0" cy="126.0" r="2.8" fill="url(#sg75)"/>
<circle cx="525.5" cy="131.0" r="2.8" fill="url(#sg75)"/>
<circle cx="526.0" cy="136.0" r="2.8" fill="url(#sg75)"/>
<circle cx="527.0" cy="141.0" r="2.8" fill="url(#sg75)"/>
<circle cx="532.8" cy="111.2" r="2.8" fill="url(#sg85)"/>
<circle cx="542.9" cy="106.3" r="2.8" fill="url(#sg85)"/>
<circle cx="556.1" cy="105.5" r="2.8" fill="url(#sg85)"/>
<circle cx="565.6" cy="109.1" r="2.8" fill="url(#sg85)"/>
<circle cx="572.8" cy="113.1" r="2.8" fill="url(#sg85)"/>
<circle cx="578.8" cy="118.4" r="2.8" fill="url(#sg85)"/>
<circle cx="580.7" cy="122.0" r="2.8" fill="url(#sg85)"/>
<circle cx="581.5" cy="126.0" r="2.8" fill="url(#sg85)"/>
<circle cx="582.0" cy="130.0" r="2.8" fill="url(#sg85)"/>
<circle cx="582.5" cy="134.0" r="2.8" fill="url(#sg85)"/>
<circle cx="582.0" cy="138.0" r="2.8" fill="url(#sg85)"/>
<circle cx="581.0" cy="141.0" r="2.8" fill="url(#sg85)"/>
<circle cx="529.0" cy="116.0" r="2.8" fill="url(#sg85)"/>
<circle cx="527.5" cy="121.0" r="2.8" fill="url(#sg85)"/>
<circle cx="526.5" cy="126.0" r="2.8" fill="url(#sg85)"/>
<circle cx="526.0" cy="131.0" r="2.8" fill="url(#sg85)"/>
<circle cx="526.5" cy="136.0" r="2.8" fill="url(#sg85)"/>
<circle cx="527.0" cy="140.5" r="2.8" fill="url(#sg85)"/>
<circle cx="531.4" cy="117.9" r="2.8" fill="url(#sg100)"/>
<circle cx="540.0" cy="112.8" r="2.8" fill="url(#sg100)"/>
<circle cx="549.6" cy="111.5" r="2.8" fill="url(#sg100)"/>
<circle cx="559.3" cy="112.3" r="2.8" fill="url(#sg100)"/>
<circle cx="565.6" cy="117.1" r="2.8" fill="url(#sg100)"/>
<circle cx="570.4" cy="121.1" r="2.8" fill="url(#sg100)"/>
<circle cx="573.0" cy="125.0" r="2.8" fill="url(#sg100)"/>
<circle cx="574.5" cy="129.0" r="2.8" fill="url(#sg100)"/>
<circle cx="575.5" cy="133.0" r="2.8" fill="url(#sg100)"/>
<circle cx="576.0" cy="137.0" r="2.8" fill="url(#sg100)"/>
<circle cx="576.0" cy="141.0" r="2.8" fill="url(#sg100)"/>
<circle cx="529.0" cy="122.0" r="2.8" fill="url(#sg100)"/>
<circle cx="528.0" cy="127.0" r="2.8" fill="url(#sg100)"/>
<circle cx="527.5" cy="132.0" r="2.8" fill="url(#sg100)"/>
<circle cx="528.0" cy="137.0" r="2.8" fill="url(#sg100)"/>
<circle cx="529.0" cy="141.0" r="2.8" fill="url(#sg100)"/>
</g>
<rect x="503.30" y="3.80" width="173.50" height="139.00" fill="none" stroke="#111" stroke-width="1.2"/>
<line x1="500.00" y1="142.60" x2="503.30" y2="142.60" stroke="#000" stroke-width="1.1" />
<text x="497.80" y="146.00" font-size="9.4" font-weight="bold" text-anchor="end" fill="#000"  stroke="#000" stroke-width="0.28">0</text>
<line x1="500.00" y1="119.50" x2="503.30" y2="119.50" stroke="#000" stroke-width="1.1" />
<text x="497.80" y="122.90" font-size="9.4" font-weight="bold" text-anchor="end" fill="#000"  stroke="#000" stroke-width="0.28">200</text>
<line x1="500.00" y1="96.40" x2="503.30" y2="96.40" stroke="#000" stroke-width="1.1" />
<text x="497.80" y="99.80" font-size="9.4" font-weight="bold" text-anchor="end" fill="#000"  stroke="#000" stroke-width="0.28">400</text>
<line x1="500.00" y1="73.30" x2="503.30" y2="73.30" stroke="#000" stroke-width="1.1" />
<text x="497.80" y="76.70" font-size="9.4" font-weight="bold" text-anchor="end" fill="#000"  stroke="#000" stroke-width="0.28">600</text>
<line x1="500.00" y1="50.20" x2="503.30" y2="50.20" stroke="#000" stroke-width="1.1" />
<text x="497.80" y="53.60" font-size="9.4" font-weight="bold" text-anchor="end" fill="#000"  stroke="#000" stroke-width="0.28">800</text>
<line x1="500.00" y1="27.10" x2="503.30" y2="27.10" stroke="#000" stroke-width="1.1" />
<text x="497.80" y="30.50" font-size="9.4" font-weight="bold" text-anchor="end" fill="#000"  stroke="#000" stroke-width="0.28">1000</text>
<line x1="500.00" y1="4.00" x2="503.30" y2="4.00" stroke="#000" stroke-width="1.1" />
<text x="497.80" y="7.40" font-size="9.4" font-weight="bold" text-anchor="end" fill="#000"  stroke="#000" stroke-width="0.28">1200</text>
<line x1="501.30" y1="131.05" x2="503.30" y2="131.05" stroke="#000" stroke-width="1.0" />
<line x1="501.30" y1="107.95" x2="503.30" y2="107.95" stroke="#000" stroke-width="1.0" />
<line x1="501.30" y1="84.85" x2="503.30" y2="84.85" stroke="#000" stroke-width="1.0" />
<line x1="501.30" y1="61.75" x2="503.30" y2="61.75" stroke="#000" stroke-width="1.0" />
<line x1="501.30" y1="38.65" x2="503.30" y2="38.65" stroke="#000" stroke-width="1.0" />
<line x1="501.30" y1="15.55" x2="503.30" y2="15.55" stroke="#000" stroke-width="1.0" />
<line x1="503.50" y1="142.80" x2="503.50" y2="145.80" stroke="#000" stroke-width="1.1" />
<text x="503.50" y="156.50" font-size="9.4" font-weight="bold" text-anchor="middle" fill="#000"  stroke="#000" stroke-width="0.28">-200</text>
<line x1="530.30" y1="142.80" x2="530.30" y2="145.80" stroke="#000" stroke-width="1.1" />
<text x="530.30" y="156.50" font-size="9.4" font-weight="bold" text-anchor="middle" fill="#000"  stroke="#000" stroke-width="0.28">0</text>
<line x1="557.10" y1="142.80" x2="557.10" y2="145.80" stroke="#000" stroke-width="1.1" />
<text x="557.10" y="156.50" font-size="9.4" font-weight="bold" text-anchor="middle" fill="#000"  stroke="#000" stroke-width="0.28">200</text>
<line x1="583.90" y1="142.80" x2="583.90" y2="145.80" stroke="#000" stroke-width="1.1" />
<text x="583.90" y="156.50" font-size="9.4" font-weight="bold" text-anchor="middle" fill="#000"  stroke="#000" stroke-width="0.28">400</text>
<line x1="610.70" y1="142.80" x2="610.70" y2="145.80" stroke="#000" stroke-width="1.1" />
<text x="610.70" y="156.50" font-size="9.4" font-weight="bold" text-anchor="middle" fill="#000"  stroke="#000" stroke-width="0.28">600</text>
<line x1="637.50" y1="142.80" x2="637.50" y2="145.80" stroke="#000" stroke-width="1.1" />
<text x="637.50" y="156.50" font-size="9.4" font-weight="bold" text-anchor="middle" fill="#000"  stroke="#000" stroke-width="0.28">800</text>
<line x1="664.30" y1="142.80" x2="664.30" y2="145.80" stroke="#000" stroke-width="1.1" />
<text x="664.30" y="156.50" font-size="9.4" font-weight="bold" text-anchor="middle" fill="#000"  stroke="#000" stroke-width="0.28">1000</text>
<line x1="516.90" y1="142.80" x2="516.90" y2="144.80" stroke="#000" stroke-width="1.0" />
<line x1="543.70" y1="142.80" x2="543.70" y2="144.80" stroke="#000" stroke-width="1.0" />
<line x1="570.50" y1="142.80" x2="570.50" y2="144.80" stroke="#000" stroke-width="1.0" />
<line x1="597.30" y1="142.80" x2="597.30" y2="144.80" stroke="#000" stroke-width="1.0" />
<line x1="624.10" y1="142.80" x2="624.10" y2="144.80" stroke="#000" stroke-width="1.0" />
<line x1="650.90" y1="142.80" x2="650.90" y2="144.80" stroke="#000" stroke-width="1.0" />
<circle cx="543.8" cy="9.9" r="2.6" fill="url(#sg30)"/>
<text x="551.9" y="12.50" font-size="8.2" font-weight="bold" stroke="#000" stroke-width="0.28">CNTs-PVDF<tspan font-size="5.6" dy="2.4">30</tspan></text>
<circle cx="543.8" cy="22.3" r="2.6" fill="url(#sg40)"/>
<text x="551.9" y="24.90" font-size="8.2" font-weight="bold" stroke="#000" stroke-width="0.28">CNTs-PVDF<tspan font-size="5.6" dy="2.4">40</tspan></text>
<circle cx="543.8" cy="34.7" r="2.6" fill="url(#sg50)"/>
<text x="551.9" y="37.30" font-size="8.2" font-weight="bold" stroke="#000" stroke-width="0.28">CNTs-PVDF<tspan font-size="5.6" dy="2.4">50</tspan></text>
<circle cx="612.8" cy="9.9" r="2.6" fill="url(#sg60)"/>
<text x="620.9" y="12.50" font-size="8.2" font-weight="bold" stroke="#000" stroke-width="0.28">CNTs-PVDF<tspan font-size="5.6" dy="2.4">60</tspan></text>
<circle cx="612.8" cy="22.3" r="2.6" fill="url(#sg75)"/>
<text x="620.9" y="24.90" font-size="8.2" font-weight="bold" stroke="#000" stroke-width="0.28">CNTs-PVDF<tspan font-size="5.6" dy="2.4">75</tspan></text>
<circle cx="612.8" cy="34.7" r="2.6" fill="url(#sg85)"/>
<text x="620.9" y="37.30" font-size="8.2" font-weight="bold" stroke="#000" stroke-width="0.28">CNTs-PVDF<tspan font-size="5.6" dy="2.4">85</tspan></text>
<circle cx="612.8" cy="47.1" r="2.6" fill="url(#sg100)"/>
<text x="620.9" y="49.70" font-size="8.2" font-weight="bold" stroke="#000" stroke-width="0.28">CNTs-PVDF<tspan font-size="5.6" dy="2.4">100</tspan></text>
<text transform="translate(472.8 89.4) rotate(-90)" font-size="10.4" font-weight="bold" stroke="#000" stroke-width="0.28">-Z'' <tspan font-weight="normal">(Ω)</tspan></text>
<text x="577.6" y="174" font-size="10.4" font-weight="bold" stroke="#000" stroke-width="0.28">Z' <tspan font-weight="normal">(Ω)</tspan></text>
<text x="460.80" y="16.20" font-size="21" font-weight="bold" text-anchor="start" fill="#000"  stroke="#000" stroke-width="0.28">c</text>
<line x1="45.50" y1="252.70" x2="189.60" y2="272.54" stroke="#9fd9bf" stroke-width="1.1" />
<line x1="45.50" y1="243.80" x2="189.60" y2="261.49" stroke="#8ea3d3" stroke-width="1.1" />
<line x1="45.50" y1="235.42" x2="189.60" y2="250.03" stroke="#dcb98a" stroke-width="1.1" />
<line x1="45.50" y1="229.71" x2="189.60" y2="240.25" stroke="#c2e47e" stroke-width="1.1" />
<line x1="45.50" y1="224.74" x2="189.60" y2="235.13" stroke="#fbbe92" stroke-width="1.1" />
<line x1="45.50" y1="216.50" x2="189.60" y2="224.36" stroke="#e07fc0" stroke-width="1.1" />
<line x1="45.50" y1="213.91" x2="189.60" y2="220.73" stroke="#a8c9df" stroke-width="1.1" />
<path d="M43.6,241.5L47.4,245.3M47.4,241.5L43.6,245.3" stroke="#9fd9bf" stroke-width="1.35" fill="none"/>
<path d="M53.2,258.5L57.0,262.3M57.0,258.5L53.2,262.3" stroke="#9fd9bf" stroke-width="1.35" fill="none"/>
<path d="M79.0,260.0L82.8,263.8M82.8,260.0L79.0,263.8" stroke="#9fd9bf" stroke-width="1.35" fill="none"/>
<path d="M187.7,268.9L191.5,272.7M191.5,268.9L187.7,272.7" stroke="#9fd9bf" stroke-width="1.35" fill="none"/>
<path d="M43.6,233.8L47.4,237.6M47.4,233.8L43.6,237.6" stroke="#8ea3d3" stroke-width="1.35" fill="none"/>
<path d="M53.2,248.4L57.0,252.2M57.0,248.4L53.2,252.2" stroke="#8ea3d3" stroke-width="1.35" fill="none"/>
<path d="M79.0,250.0L82.8,253.8M82.8,250.0L79.0,253.8" stroke="#8ea3d3" stroke-width="1.35" fill="none"/>
<path d="M187.7,258.3L191.5,262.1M191.5,258.3L187.7,262.1" stroke="#8ea3d3" stroke-width="1.35" fill="none"/>
<path d="M43.6,226.8L47.4,230.6M47.4,226.8L43.6,230.6" stroke="#dcb98a" stroke-width="1.35" fill="none"/>
<path d="M53.2,239.2L57.0,243.0M57.0,239.2L53.2,243.0" stroke="#dcb98a" stroke-width="1.35" fill="none"/>
<path d="M79.0,239.9L82.8,243.7M82.8,239.9L79.0,243.7" stroke="#dcb98a" stroke-width="1.35" fill="none"/>
<path d="M187.7,246.9L191.5,250.7M191.5,246.9L187.7,250.7" stroke="#dcb98a" stroke-width="1.35" fill="none"/>
<path d="M43.6,221.4L47.4,225.2M47.4,221.4L43.6,225.2" stroke="#c2e47e" stroke-width="1.35" fill="none"/>
<path d="M53.2,234.6L57.0,238.4M57.0,234.6L53.2,238.4" stroke="#c2e47e" stroke-width="1.35" fill="none"/>
<path d="M79.0,235.3L82.8,239.1M82.8,235.3L79.0,239.1" stroke="#c2e47e" stroke-width="1.35" fill="none"/>
<path d="M187.7,241.0L191.5,244.8M191.5,241.0L187.7,244.8" stroke="#c2e47e" stroke-width="1.35" fill="none"/>
<path d="M43.6,219.1L47.4,222.9M47.4,219.1L43.6,222.9" stroke="#fbbe92" stroke-width="1.35" fill="none"/>
<path d="M53.2,226.8L57.0,230.6M57.0,226.8L53.2,230.6" stroke="#fbbe92" stroke-width="1.35" fill="none"/>
<path d="M79.0,226.8L82.8,230.6M82.8,226.8L79.0,230.6" stroke="#fbbe92" stroke-width="1.35" fill="none"/>
<path d="M187.7,232.2L191.5,236.0M191.5,232.2L187.7,236.0" stroke="#fbbe92" stroke-width="1.35" fill="none"/>
<path d="M43.6,211.4L47.4,215.2M47.4,211.4L43.6,215.2" stroke="#e07fc0" stroke-width="1.35" fill="none"/>
<path d="M53.2,218.4L57.0,222.2M57.0,218.4L53.2,222.2" stroke="#e07fc0" stroke-width="1.35" fill="none"/>
<path d="M79.0,218.4L82.8,222.2M82.8,218.4L79.0,222.2" stroke="#e07fc0" stroke-width="1.35" fill="none"/>
<path d="M187.7,222.1L191.5,225.9M191.5,222.1L187.7,225.9" stroke="#e07fc0" stroke-width="1.35" fill="none"/>
<path d="M43.6,209.9L47.4,213.7M47.4,209.9L43.6,213.7" stroke="#a8c9df" stroke-width="1.35" fill="none"/>
<path d="M53.2,214.5L57.0,218.3M57.0,214.5L53.2,218.3" stroke="#a8c9df" stroke-width="1.35" fill="none"/>
<path d="M79.0,215.3L82.8,219.1M82.8,215.3L79.0,219.1" stroke="#a8c9df" stroke-width="1.35" fill="none"/>
<path d="M187.7,217.7L191.5,221.5M191.5,217.7L187.7,221.5" stroke="#a8c9df" stroke-width="1.35" fill="none"/>
<rect x="29.00" y="203.30" width="175.40" height="139.00" fill="none" stroke="#111" stroke-width="1.2"/>
<line x1="25.80" y1="342.08" x2="29.00" y2="342.08" stroke="#000" stroke-width="1.1" />
<text x="22.90" y="345.38" font-size="9.4" font-weight="bold" text-anchor="end" fill="#000"  stroke="#000" stroke-width="0.28">-4</text>
<line x1="25.80" y1="326.66" x2="29.00" y2="326.66" stroke="#000" stroke-width="1.1" />
<text x="22.90" y="329.96" font-size="9.4" font-weight="bold" text-anchor="end" fill="#000"  stroke="#000" stroke-width="0.28">-3</text>
<line x1="25.80" y1="311.24" x2="29.00" y2="311.24" stroke="#000" stroke-width="1.1" />
<text x="22.90" y="314.54" font-size="9.4" font-weight="bold" text-anchor="end" fill="#000"  stroke="#000" stroke-width="0.28">-2</text>
<line x1="25.80" y1="295.82" x2="29.00" y2="295.82" stroke="#000" stroke-width="1.1" />
<text x="22.90" y="299.12" font-size="9.4" font-weight="bold" text-anchor="end" fill="#000"  stroke="#000" stroke-width="0.28">-1</text>
<line x1="25.80" y1="280.40" x2="29.00" y2="280.40" stroke="#000" stroke-width="1.1" />
<text x="22.90" y="283.70" font-size="9.4" font-weight="bold" text-anchor="end" fill="#000"  stroke="#000" stroke-width="0.28">0</text>
<line x1="25.80" y1="264.98" x2="29.00" y2="264.98" stroke="#000" stroke-width="1.1" />
<text x="22.90" y="268.28" font-size="9.4" font-weight="bold" text-anchor="end" fill="#000"  stroke="#000" stroke-width="0.28">1</text>
<line x1="25.80" y1="249.56" x2="29.00" y2="249.56" stroke="#000" stroke-width="1.1" />
<text x="22.90" y="252.86" font-size="9.4" font-weight="bold" text-anchor="end" fill="#000"  stroke="#000" stroke-width="0.28">2</text>
<line x1="25.80" y1="234.14" x2="29.00" y2="234.14" stroke="#000" stroke-width="1.1" />
<text x="22.90" y="237.44" font-size="9.4" font-weight="bold" text-anchor="end" fill="#000"  stroke="#000" stroke-width="0.28">3</text>
<line x1="25.80" y1="218.72" x2="29.00" y2="218.72" stroke="#000" stroke-width="1.1" />
<text x="22.90" y="222.02" font-size="9.4" font-weight="bold" text-anchor="end" fill="#000"  stroke="#000" stroke-width="0.28">4</text>
<line x1="25.80" y1="203.30" x2="29.00" y2="203.30" stroke="#000" stroke-width="1.1" />
<text x="22.90" y="206.60" font-size="9.4" font-weight="bold" text-anchor="end" fill="#000"  stroke="#000" stroke-width="0.28">5</text>
<line x1="27.00" y1="334.37" x2="29.00" y2="334.37" stroke="#000" stroke-width="1.0" />
<line x1="27.00" y1="318.95" x2="29.00" y2="318.95" stroke="#000" stroke-width="1.0" />
<line x1="27.00" y1="303.53" x2="29.00" y2="303.53" stroke="#000" stroke-width="1.0" />
<line x1="27.00" y1="288.11" x2="29.00" y2="288.11" stroke="#000" stroke-width="1.0" />
<line x1="27.00" y1="272.69" x2="29.00" y2="272.69" stroke="#000" stroke-width="1.0" />
<line x1="27.00" y1="257.27" x2="29.00" y2="257.27" stroke="#000" stroke-width="1.0" />
<line x1="27.00" y1="241.85" x2="29.00" y2="241.85" stroke="#000" stroke-width="1.0" />
<line x1="27.00" y1="226.43" x2="29.00" y2="226.43" stroke="#000" stroke-width="1.0" />
<line x1="27.00" y1="211.01" x2="29.00" y2="211.01" stroke="#000" stroke-width="1.0" />
<line x1="36.40" y1="342.30" x2="36.40" y2="345.30" stroke="#000" stroke-width="1.1" />
<text x="36.40" y="355.20" font-size="9.4" font-weight="bold" text-anchor="middle" fill="#000"  stroke="#000" stroke-width="0.28">0.002</text>
<line x1="64.40" y1="342.30" x2="64.40" y2="345.30" stroke="#000" stroke-width="1.1" />
<text x="64.40" y="355.20" font-size="9.4" font-weight="bold" text-anchor="middle" fill="#000"  stroke="#000" stroke-width="0.28">0.004</text>
<line x1="92.40" y1="342.30" x2="92.40" y2="345.30" stroke="#000" stroke-width="1.1" />
<text x="92.40" y="355.20" font-size="9.4" font-weight="bold" text-anchor="middle" fill="#000"  stroke="#000" stroke-width="0.28">0.006</text>
<line x1="120.40" y1="342.30" x2="120.40" y2="345.30" stroke="#000" stroke-width="1.1" />
<text x="120.40" y="355.20" font-size="9.4" font-weight="bold" text-anchor="middle" fill="#000"  stroke="#000" stroke-width="0.28">0.008</text>
<line x1="148.40" y1="342.30" x2="148.40" y2="345.30" stroke="#000" stroke-width="1.1" />
<text x="148.40" y="355.20" font-size="9.4" font-weight="bold" text-anchor="middle" fill="#000"  stroke="#000" stroke-width="0.28">0.010</text>
<line x1="176.40" y1="342.30" x2="176.40" y2="345.30" stroke="#000" stroke-width="1.1" />
<text x="176.40" y="355.20" font-size="9.4" font-weight="bold" text-anchor="middle" fill="#000"  stroke="#000" stroke-width="0.28">0.012</text>
<line x1="204.40" y1="342.30" x2="204.40" y2="345.30" stroke="#000" stroke-width="1.1" />
<text x="204.40" y="355.20" font-size="9.4" font-weight="bold" text-anchor="middle" fill="#000"  stroke="#000" stroke-width="0.28">0.014</text>
<line x1="50.40" y1="342.30" x2="50.40" y2="344.30" stroke="#000" stroke-width="1.0" />
<line x1="78.40" y1="342.30" x2="78.40" y2="344.30" stroke="#000" stroke-width="1.0" />
<line x1="106.40" y1="342.30" x2="106.40" y2="344.30" stroke="#000" stroke-width="1.0" />
<line x1="134.40" y1="342.30" x2="134.40" y2="344.30" stroke="#000" stroke-width="1.0" />
<line x1="162.40" y1="342.30" x2="162.40" y2="344.30" stroke="#000" stroke-width="1.0" />
<line x1="190.40" y1="342.30" x2="190.40" y2="344.30" stroke="#000" stroke-width="1.0" />
<path d="M39.5,283.5L42.7,286.7M42.7,283.5L39.5,286.7" stroke="#9fd9bf" stroke-width="1.2" fill="none"/>
<text x="46.8" y="287.00" font-size="5.3" font-weight="bold" fill="#222" stroke="#222" stroke-width="0.28">CNTs-PVDF<tspan font-size="3.6" dy="1.4">30</tspan></text>
<line x1="83.00" y1="285.10" x2="90.20" y2="285.10" stroke="#9fd9bf" stroke-width="1.1" />
<text x="93" y="287.00" font-size="5.3" font-weight="bold" fill="#222" stroke="#222" stroke-width="0.28">y=-127.36x+2.14</text>
<text x="136.8" y="287.00" font-size="5.3" font-weight="bold" fill="#222" stroke="#222" stroke-width="0.28">R<tspan font-size="3.6" dy="-2">2</tspan><tspan dy="2">=0.621</tspan></text>
<text x="163.7" y="287.00" font-size="5.3" font-weight="bold" fill="#222" stroke="#222" stroke-width="0.28"><tspan font-style="italic">E</tspan><tspan font-size="3.6" dy="1.2">c</tspan><tspan dy="-1.2">=0.0110 eV</tspan></text>
<path d="M39.5,292.1L42.7,295.3M42.7,292.1L39.5,295.3" stroke="#8ea3d3" stroke-width="1.2" fill="none"/>
<text x="46.8" y="295.60" font-size="5.3" font-weight="bold" fill="#222" stroke="#222" stroke-width="0.28">CNTs-PVDF<tspan font-size="3.6" dy="1.4">40</tspan></text>
<line x1="83.00" y1="293.70" x2="90.20" y2="293.70" stroke="#8ea3d3" stroke-width="1.1" />
<text x="93" y="295.60" font-size="5.3" font-weight="bold" fill="#222" stroke="#222" stroke-width="0.28">y=-113.56x+2.68</text>
<text x="136.8" y="295.60" font-size="5.3" font-weight="bold" fill="#222" stroke="#222" stroke-width="0.28">R<tspan font-size="3.6" dy="-2">2</tspan><tspan dy="2">=0.647</tspan></text>
<text x="163.7" y="295.60" font-size="5.3" font-weight="bold" fill="#222" stroke="#222" stroke-width="0.28"><tspan font-style="italic">E</tspan><tspan font-size="3.6" dy="1.2">c</tspan><tspan dy="-1.2">=0.0099 eV</tspan></text>
<path d="M39.5,300.7L42.7,303.9M42.7,300.7L39.5,303.9" stroke="#dcb98a" stroke-width="1.2" fill="none"/>
<text x="46.8" y="304.20" font-size="5.3" font-weight="bold" fill="#222" stroke="#222" stroke-width="0.28">CNTs-PVDF<tspan font-size="3.6" dy="1.4">50</tspan></text>
<line x1="83.00" y1="302.30" x2="90.20" y2="302.30" stroke="#dcb98a" stroke-width="1.1" />
<text x="93" y="304.20" font-size="5.3" font-weight="bold" fill="#222" stroke="#222" stroke-width="0.28">y=-93.78x+3.17</text>
<text x="136.8" y="304.20" font-size="5.3" font-weight="bold" fill="#222" stroke="#222" stroke-width="0.28">R<tspan font-size="3.6" dy="-2">2</tspan><tspan dy="2">=0.646</tspan></text>
<text x="163.7" y="304.20" font-size="5.3" font-weight="bold" fill="#222" stroke="#222" stroke-width="0.28"><tspan font-style="italic">E</tspan><tspan font-size="3.6" dy="1.2">c</tspan><tspan dy="-1.2">=0.0081 eV</tspan></text>
<path d="M39.5,309.3L42.7,312.5M42.7,309.3L39.5,312.5" stroke="#c2e47e" stroke-width="1.2" fill="none"/>
<text x="46.8" y="312.80" font-size="5.3" font-weight="bold" fill="#222" stroke="#222" stroke-width="0.28">CNTs-PVDF<tspan font-size="3.6" dy="1.4">60</tspan></text>
<line x1="83.00" y1="310.90" x2="90.20" y2="310.90" stroke="#c2e47e" stroke-width="1.1" />
<text x="93" y="312.80" font-size="5.3" font-weight="bold" fill="#222" stroke="#222" stroke-width="0.28">y=-67.66x+3.47</text>
<text x="136.8" y="312.80" font-size="5.3" font-weight="bold" fill="#222" stroke="#222" stroke-width="0.28">R<tspan font-size="3.6" dy="-2">2</tspan><tspan dy="2">=0.612</tspan></text>
<text x="163.7" y="312.80" font-size="5.3" font-weight="bold" fill="#222" stroke="#222" stroke-width="0.28"><tspan font-style="italic">E</tspan><tspan font-size="3.6" dy="1.2">c</tspan><tspan dy="-1.2">=0.0075 eV</tspan></text>
<path d="M39.5,317.9L42.7,321.1M42.7,317.9L39.5,321.1" stroke="#fbbe92" stroke-width="1.2" fill="none"/>
<text x="46.8" y="321.40" font-size="5.3" font-weight="bold" fill="#222" stroke="#222" stroke-width="0.28">CNTs-PVDF<tspan font-size="3.6" dy="1.4">75</tspan></text>
<line x1="83.00" y1="319.50" x2="90.20" y2="319.50" stroke="#fbbe92" stroke-width="1.1" />
<text x="93" y="321.40" font-size="5.3" font-weight="bold" fill="#222" stroke="#222" stroke-width="0.28">y=-66.72x+3.79</text>
<text x="136.8" y="321.40" font-size="5.3" font-weight="bold" fill="#222" stroke="#222" stroke-width="0.28">R<tspan font-size="3.6" dy="-2">2</tspan><tspan dy="2">=0.700</tspan></text>
<text x="163.7" y="321.40" font-size="5.3" font-weight="bold" fill="#222" stroke="#222" stroke-width="0.28"><tspan font-style="italic">E</tspan><tspan font-size="3.6" dy="1.2">c</tspan><tspan dy="-1.2">=0.0058 eV</tspan></text>
<path d="M39.5,326.5L42.7,329.7M42.7,326.5L39.5,329.7" stroke="#e07fc0" stroke-width="1.2" fill="none"/>
<text x="46.8" y="330.00" font-size="5.3" font-weight="bold" fill="#222" stroke="#222" stroke-width="0.28">CNTs-PVDF<tspan font-size="3.6" dy="1.4">85</tspan></text>
<line x1="83.00" y1="328.10" x2="90.20" y2="328.10" stroke="#e07fc0" stroke-width="1.1" />
<text x="93" y="330.00" font-size="5.3" font-weight="bold" fill="#222" stroke="#222" stroke-width="0.28">y=-50.45x+4.28</text>
<text x="136.8" y="330.00" font-size="5.3" font-weight="bold" fill="#222" stroke="#222" stroke-width="0.28">R<tspan font-size="3.6" dy="-2">2</tspan><tspan dy="2">=0.643</tspan></text>
<text x="163.7" y="330.00" font-size="5.3" font-weight="bold" fill="#222" stroke="#222" stroke-width="0.28"><tspan font-style="italic">E</tspan><tspan font-size="3.6" dy="1.2">c</tspan><tspan dy="-1.2">=0.0043 eV</tspan></text>
<path d="M39.5,335.1L42.7,338.3M42.7,335.1L39.5,338.3" stroke="#a8c9df" stroke-width="1.2" fill="none"/>
<text x="46.8" y="338.60" font-size="5.3" font-weight="bold" fill="#222" stroke="#222" stroke-width="0.28">CNTs-PVDF<tspan font-size="3.6" dy="1.4">100</tspan></text>
<line x1="83.00" y1="336.70" x2="90.20" y2="336.70" stroke="#a8c9df" stroke-width="1.1" />
<text x="93" y="338.60" font-size="5.3" font-weight="bold" fill="#222" stroke="#222" stroke-width="0.28">y=-43.79x+4.43</text>
<text x="136.8" y="338.60" font-size="5.3" font-weight="bold" fill="#222" stroke="#222" stroke-width="0.28">R<tspan font-size="3.6" dy="-2">2</tspan><tspan dy="2">=0.691</tspan></text>
<text x="163.7" y="338.60" font-size="5.3" font-weight="bold" fill="#222" stroke="#222" stroke-width="0.28"><tspan font-style="italic">E</tspan><tspan font-size="3.6" dy="1.2">c</tspan><tspan dy="-1.2">=0.0038 eV</tspan></text>
<text transform="translate(11.7 283) rotate(-90)" font-size="9.9" font-weight="bold" stroke="#000" stroke-width="0.28">ln(s)</text>
<text x="98" y="373.5" font-size="10.2" font-weight="bold" stroke="#000" stroke-width="0.28">1/T (K<tspan font-size="6.5" dy="-4">-1</tspan><tspan dy="4">)</tspan></text>
<text x="-0.30" y="216.80" font-size="22" font-weight="bold" text-anchor="start" fill="#000"  stroke="#000" stroke-width="0.28">d</text>
<line x1="286.00" y1="220.82" x2="424.60" y2="285.18" stroke="#777" stroke-width="1.1" />
<line x1="286.00" y1="225.14" x2="424.90" y2="318.91" stroke="#ee1c1c" stroke-width="1.4" />
<rect x="284.70" y="217.94" width="3.00" height="3.00" fill="#555" />
<rect x="293.80" y="221.91" width="3.00" height="3.00" fill="#555" />
<rect x="318.30" y="240.77" width="3.00" height="3.00" fill="#555" />
<rect x="423.10" y="283.68" width="3.00" height="3.00" fill="#555" />
<circle cx="286.2" cy="218.9" r="1.7" fill="#ee3b3b"/>
<circle cx="295.3" cy="225.5" r="1.7" fill="#ee3b3b"/>
<circle cx="319.8" cy="262.7" r="1.7" fill="#ee3b3b"/>
<circle cx="424.6" cy="316.0" r="1.7" fill="#ee3b3b"/>
<rect x="263.50" y="203.10" width="174.70" height="138.50" fill="none" stroke="#111" stroke-width="1.2"/>
<line x1="260.30" y1="341.40" x2="263.50" y2="341.40" stroke="#000" stroke-width="1.1" />
<text x="258.60" y="344.70" font-size="9.3" font-weight="bold" text-anchor="end" fill="#000"  stroke="#000" stroke-width="0.28">-70</text>
<line x1="260.30" y1="324.10" x2="263.50" y2="324.10" stroke="#000" stroke-width="1.1" />
<text x="258.60" y="327.40" font-size="9.3" font-weight="bold" text-anchor="end" fill="#000"  stroke="#000" stroke-width="0.28">-60</text>
<line x1="260.30" y1="306.80" x2="263.50" y2="306.80" stroke="#000" stroke-width="1.1" />
<text x="258.60" y="310.10" font-size="9.3" font-weight="bold" text-anchor="end" fill="#000"  stroke="#000" stroke-width="0.28">-50</text>
<line x1="260.30" y1="289.50" x2="263.50" y2="289.50" stroke="#000" stroke-width="1.1" />
<text x="258.60" y="292.80" font-size="9.3" font-weight="bold" text-anchor="end" fill="#000"  stroke="#000" stroke-width="0.28">-40</text>
<line x1="260.30" y1="272.20" x2="263.50" y2="272.20" stroke="#000" stroke-width="1.1" />
<text x="258.60" y="275.50" font-size="9.3" font-weight="bold" text-anchor="end" fill="#000"  stroke="#000" stroke-width="0.28">-30</text>
<line x1="260.30" y1="254.90" x2="263.50" y2="254.90" stroke="#000" stroke-width="1.1" />
<text x="258.60" y="258.20" font-size="9.3" font-weight="bold" text-anchor="end" fill="#000"  stroke="#000" stroke-width="0.28">-20</text>
<line x1="260.30" y1="237.60" x2="263.50" y2="237.60" stroke="#000" stroke-width="1.1" />
<text x="258.60" y="240.90" font-size="9.3" font-weight="bold" text-anchor="end" fill="#000"  stroke="#000" stroke-width="0.28">-10</text>
<line x1="260.30" y1="220.30" x2="263.50" y2="220.30" stroke="#000" stroke-width="1.1" />
<text x="258.60" y="223.60" font-size="9.3" font-weight="bold" text-anchor="end" fill="#000"  stroke="#000" stroke-width="0.28">0</text>
<line x1="260.30" y1="203.00" x2="263.50" y2="203.00" stroke="#000" stroke-width="1.1" />
<text x="258.60" y="206.30" font-size="9.3" font-weight="bold" text-anchor="end" fill="#000"  stroke="#000" stroke-width="0.28">10</text>
<line x1="261.50" y1="332.75" x2="263.50" y2="332.75" stroke="#000" stroke-width="1.0" />
<line x1="261.50" y1="315.45" x2="263.50" y2="315.45" stroke="#000" stroke-width="1.0" />
<line x1="261.50" y1="298.15" x2="263.50" y2="298.15" stroke="#000" stroke-width="1.0" />
<line x1="261.50" y1="280.85" x2="263.50" y2="280.85" stroke="#000" stroke-width="1.0" />
<line x1="261.50" y1="263.55" x2="263.50" y2="263.55" stroke="#000" stroke-width="1.0" />
<line x1="261.50" y1="246.25" x2="263.50" y2="246.25" stroke="#000" stroke-width="1.0" />
<line x1="261.50" y1="228.95" x2="263.50" y2="228.95" stroke="#000" stroke-width="1.0" />
<line x1="261.50" y1="211.65" x2="263.50" y2="211.65" stroke="#000" stroke-width="1.0" />
<line x1="276.00" y1="341.60" x2="276.00" y2="344.60" stroke="#000" stroke-width="1.1" />
<text x="276.00" y="354.20" font-size="9.4" font-weight="bold" text-anchor="middle" fill="#000"  stroke="#000" stroke-width="0.28">0.002</text>
<line x1="303.10" y1="341.60" x2="303.10" y2="344.60" stroke="#000" stroke-width="1.1" />
<text x="303.10" y="354.20" font-size="9.4" font-weight="bold" text-anchor="middle" fill="#000"  stroke="#000" stroke-width="0.28">0.004</text>
<line x1="330.20" y1="341.60" x2="330.20" y2="344.60" stroke="#000" stroke-width="1.1" />
<text x="330.20" y="354.20" font-size="9.4" font-weight="bold" text-anchor="middle" fill="#000"  stroke="#000" stroke-width="0.28">0.006</text>
<line x1="357.30" y1="341.60" x2="357.30" y2="344.60" stroke="#000" stroke-width="1.1" />
<text x="357.30" y="354.20" font-size="9.4" font-weight="bold" text-anchor="middle" fill="#000"  stroke="#000" stroke-width="0.28">0.008</text>
<line x1="384.40" y1="341.60" x2="384.40" y2="344.60" stroke="#000" stroke-width="1.1" />
<text x="384.40" y="354.20" font-size="9.4" font-weight="bold" text-anchor="middle" fill="#000"  stroke="#000" stroke-width="0.28">0.010</text>
<line x1="411.50" y1="341.60" x2="411.50" y2="344.60" stroke="#000" stroke-width="1.1" />
<text x="411.50" y="354.20" font-size="9.4" font-weight="bold" text-anchor="middle" fill="#000"  stroke="#000" stroke-width="0.28">0.012</text>
<line x1="438.60" y1="341.60" x2="438.60" y2="344.60" stroke="#000" stroke-width="1.1" />
<text x="438.60" y="354.20" font-size="9.4" font-weight="bold" text-anchor="middle" fill="#000"  stroke="#000" stroke-width="0.28">0.014</text>
<line x1="289.55" y1="341.60" x2="289.55" y2="343.60" stroke="#000" stroke-width="1.0" />
<line x1="316.65" y1="341.60" x2="316.65" y2="343.60" stroke="#000" stroke-width="1.0" />
<line x1="343.75" y1="341.60" x2="343.75" y2="343.60" stroke="#000" stroke-width="1.0" />
<line x1="370.85" y1="341.60" x2="370.85" y2="343.60" stroke="#000" stroke-width="1.0" />
<line x1="397.95" y1="341.60" x2="397.95" y2="343.60" stroke="#000" stroke-width="1.0" />
<line x1="425.05" y1="341.60" x2="425.05" y2="343.60" stroke="#000" stroke-width="1.0" />
<rect x="274.20" y="325.90" width="3.00" height="3.00" fill="#444" />
<circle cx="275.7" cy="336.1" r="1.8" fill="#ee3b3b"/>
<text x="281.1" y="329.3" font-size="5.4" font-weight="bold" fill="#222" stroke="#222" stroke-width="0.28">CNTs-PAN</text>
<text x="281.1" y="338" font-size="5.4" font-weight="bold" fill="#222" stroke="#222" stroke-width="0.28">CNTs-PES</text>
<line x1="310.90" y1="327.40" x2="318.10" y2="327.40" stroke="#777" stroke-width="0.9" />
<line x1="310.90" y1="336.10" x2="318.10" y2="336.10" stroke="#ee1c1c" stroke-width="1.6" />
<text x="320.8" y="329.30" font-size="5.2" font-weight="bold" fill="#222" stroke="#222" stroke-width="0.28">y=-3666.99x+9.30</text>
<text x="370.2" y="329.30" font-size="5.2" font-weight="bold" fill="#222" stroke="#222" stroke-width="0.28">R<tspan font-size="3.6" dy="-2">2</tspan><tspan dy="2">=0.987</tspan></text>
<text x="397.7" y="329.30" font-size="5.2" font-weight="bold" fill="#222" stroke="#222" stroke-width="0.28"><tspan font-style="italic">E</tspan><tspan font-size="3.6" dy="1.2">c</tspan><tspan dy="-1.2">=0.3160 eV</tspan></text>
<text x="320.8" y="338.00" font-size="5.2" font-weight="bold" fill="#222" stroke="#222" stroke-width="0.28">y=-5299.04x+11.52</text>
<text x="370.2" y="338.00" font-size="5.2" font-weight="bold" fill="#222" stroke="#222" stroke-width="0.28">R<tspan font-size="3.6" dy="-2">2</tspan><tspan dy="2">=0.949</tspan></text>
<text x="397.7" y="338.00" font-size="5.2" font-weight="bold" fill="#222" stroke="#222" stroke-width="0.28"><tspan font-style="italic">E</tspan><tspan font-size="3.6" dy="1.2">c</tspan><tspan dy="-1.2">=0.4566 eV</tspan></text>
<text transform="translate(241.2 283) rotate(-90)" font-size="9.9" font-weight="bold" stroke="#000" stroke-width="0.28">ln(s)</text>
<text x="332.3" y="371.8" font-size="10.2" font-weight="bold" stroke="#000" stroke-width="0.28">1/T (K<tspan font-size="6.5" dy="-4">-1</tspan><tspan dy="4">)</tspan></text>
<text x="224.20" y="217.10" font-size="20.5" font-weight="bold" text-anchor="start" fill="#000"  stroke="#000" stroke-width="0.28">e</text>
<defs>
<pattern id="tanp" width="4.4" height="4.4" patternUnits="userSpaceOnUse" patternTransform="rotate(-28)">
 <rect width="4.4" height="4.4" fill="#e0d2ad"/>
 <rect width="1.6" height="4.4" fill="#f4eedb"/>
 <circle cx="3.1" cy="1.1" r="0.5" fill="#c4b287"/><circle cx="3.1" cy="3.3" r="0.5" fill="#c4b287"/>
</pattern>
<pattern id="tanq" width="4.4" height="4.4" patternUnits="userSpaceOnUse" patternTransform="rotate(35)">
 <rect width="4.4" height="4.4" fill="#ddd0ae"/>
 <rect width="1.5" height="4.4" fill="#f3eedf"/>
 <rect width="4.4" height="1.2" fill="#efe8d4"/>
</pattern>
<pattern id="honey" width="5.023" height="8.700" patternUnits="userSpaceOnUse" patternTransform="rotate(28)">
 <path d="M2.511,0 L2.511,1.450 L0,2.900 L0,5.800 L2.511,7.250 L2.511,8.700 M2.511,1.450 L5.023,2.900 L5.023,5.800 L2.511,7.250" stroke="#555" stroke-width="0.7" fill="none"/>
 <g fill="#2a2a2a"><circle cx="2.511" cy="1.450" r="1.0"/><circle cx="0" cy="2.900" r="1.0"/><circle cx="5.023" cy="2.900" r="1.0"/><circle cx="0" cy="5.800" r="1.0"/><circle cx="5.023" cy="5.800" r="1.0"/><circle cx="2.511" cy="7.250" r="1.0"/></g>
</pattern>
<radialGradient id="bsph" cx="0.38" cy="0.35" r="0.7"><stop offset="0" stop-color="#8fb0e0"/><stop offset="0.45" stop-color="#2f5596"/><stop offset="1" stop-color="#1d3a70"/></radialGradient>
<radialGradient id="dsph" cx="0.38" cy="0.35" r="0.7"><stop offset="0" stop-color="#8a8a8a"/><stop offset="0.5" stop-color="#333"/><stop offset="1" stop-color="#1a1a1a"/></radialGradient>
</defs>
<text x="462.60" y="206.20" font-size="9.6" font-weight="bold" text-anchor="start" fill="#000"  stroke="#000" stroke-width="0.28">CNTs-PAN/CNTs-PES</text>
<path d="M466.5,211.0L471.3,213.5M471.3,213.5L476.1,216.0M476.1,216.0L480.9,218.5M476.1,216.0L480.9,210.8M466.5,218.7L471.3,221.2M466.5,218.7L471.3,213.5M471.3,221.2L476.1,223.7M471.3,221.2L476.1,216.0M476.1,223.7L480.9,226.2M476.1,223.7L480.9,218.5M466.5,226.4L471.3,228.9M466.5,226.4L471.3,221.2M471.3,228.9L476.1,231.4M471.3,228.9L476.1,223.7M476.1,231.4L480.9,233.9M476.1,231.4L480.9,226.2M466.5,234.1L471.3,236.6M466.5,234.1L471.3,228.9M471.3,236.6L476.1,239.1M471.3,236.6L476.1,231.4M476.1,239.1L480.9,241.6M476.1,239.1L480.9,233.9M466.5,241.8L471.3,244.3M466.5,241.8L471.3,236.6M471.3,244.3L476.1,246.8M471.3,244.3L476.1,239.1M476.1,246.8L480.9,249.3M476.1,246.8L480.9,241.6M466.5,249.5L471.3,252.0M466.5,249.5L471.3,244.3M471.3,252.0L476.1,254.5M471.3,252.0L476.1,246.8M476.1,254.5L480.9,257.0M476.1,254.5L480.9,249.3M466.5,257.2L471.3,259.7M466.5,257.2L471.3,252.0M471.3,259.7L476.1,262.2M471.3,259.7L476.1,254.5M476.1,262.2L480.9,264.7M476.1,262.2L480.9,257.0M466.5,264.9L471.3,267.4M466.5,264.9L471.3,259.7M471.3,267.4L476.1,269.9M471.3,267.4L476.1,262.2M476.1,269.9L480.9,272.4M476.1,269.9L480.9,264.7M466.5,272.6L471.3,275.1M466.5,272.6L471.3,267.4M471.3,275.1L476.1,277.6M471.3,275.1L476.1,269.9M476.1,277.6L480.9,280.1M476.1,277.6L480.9,272.4M466.5,280.3L471.3,282.8M466.5,280.3L471.3,275.1M471.3,282.8L476.1,285.3M471.3,282.8L476.1,277.6M476.1,285.3L480.9,287.8M476.1,285.3L480.9,280.1M466.5,288.0L471.3,290.5M466.5,288.0L471.3,282.8M471.3,290.5L476.1,293.0M471.3,290.5L476.1,285.3M476.1,293.0L480.9,295.5M476.1,293.0L480.9,287.8M466.5,295.7L471.3,298.2M466.5,295.7L471.3,290.5M471.3,298.2L476.1,300.7M471.3,298.2L476.1,293.0M476.1,300.7L480.9,303.2M476.1,300.7L480.9,295.5M466.5,303.4L471.3,305.9M466.5,303.4L471.3,298.2M471.3,305.9L476.1,308.4M471.3,305.9L476.1,300.7M476.1,308.4L480.9,310.9M476.1,308.4L480.9,303.2M466.5,311.1L471.3,313.6M466.5,311.1L471.3,305.9M471.3,313.6L476.1,316.1M471.3,313.6L476.1,308.4M476.1,316.1L480.9,318.6M476.1,316.1L480.9,310.9M466.5,318.8L471.3,321.3M466.5,318.8L471.3,313.6M471.3,321.3L476.1,323.8M471.3,321.3L476.1,316.1M476.1,323.8L480.9,326.3M476.1,323.8L480.9,318.6M466.5,326.5L471.3,329.0M466.5,326.5L471.3,321.3M471.3,329.0L476.1,331.5M471.3,329.0L476.1,323.8M476.1,331.5L480.9,334.0M476.1,331.5L480.9,326.3M466.5,334.2L471.3,336.7M466.5,334.2L471.3,329.0M471.3,336.7L476.1,339.2M471.3,336.7L476.1,331.5M476.1,339.2L480.9,341.7M476.1,339.2L480.9,334.0M466.5,341.9L471.3,344.4M466.5,341.9L471.3,336.7M471.3,344.4L476.1,346.9M471.3,344.4L476.1,339.2M476.1,346.9L480.9,349.4M476.1,346.9L480.9,341.7M466.5,349.6L471.3,352.1M466.5,349.6L471.3,344.4M471.3,352.1L476.1,346.9" stroke="#8c9a8c" stroke-width="0.4" fill="none"/>
<g fill="#7ea35e"><circle cx="478.5" cy="213.4" r="0.5"/><circle cx="473.7" cy="218.6" r="0.5"/><circle cx="478.5" cy="221.1" r="0.5"/><circle cx="473.7" cy="226.3" r="0.5"/><circle cx="478.5" cy="228.8" r="0.5"/><circle cx="473.7" cy="234.0" r="0.5"/><circle cx="478.5" cy="236.5" r="0.5"/><circle cx="473.7" cy="241.7" r="0.5"/><circle cx="478.5" cy="244.2" r="0.5"/><circle cx="473.7" cy="249.4" r="0.5"/><circle cx="478.5" cy="251.9" r="0.5"/><circle cx="473.7" cy="257.1" r="0.5"/><circle cx="478.5" cy="259.6" r="0.5"/><circle cx="473.7" cy="264.8" r="0.5"/><circle cx="478.5" cy="267.3" r="0.5"/><circle cx="473.7" cy="272.5" r="0.5"/><circle cx="478.5" cy="275.0" r="0.5"/><circle cx="473.7" cy="280.2" r="0.5"/><circle cx="478.5" cy="282.7" r="0.5"/><circle cx="473.7" cy="287.9" r="0.5"/><circle cx="478.5" cy="290.4" r="0.5"/><circle cx="473.7" cy="295.6" r="0.5"/><circle cx="478.5" cy="298.1" r="0.5"/><circle cx="473.7" cy="303.3" r="0.5"/><circle cx="478.5" cy="305.8" r="0.5"/><circle cx="473.7" cy="311.0" r="0.5"/><circle cx="478.5" cy="313.5" r="0.5"/><circle cx="473.7" cy="318.7" r="0.5"/><circle cx="478.5" cy="321.2" r="0.5"/><circle cx="473.7" cy="326.4" r="0.5"/><circle cx="478.5" cy="328.9" r="0.5"/><circle cx="473.7" cy="334.1" r="0.5"/><circle cx="478.5" cy="336.6" r="0.5"/><circle cx="473.7" cy="341.8" r="0.5"/><circle cx="478.5" cy="344.3" r="0.5"/><circle cx="473.7" cy="349.5" r="0.5"/></g>
<g fill="#b5532d"><circle cx="466.5" cy="211.0" r="0.95"/><circle cx="466.5" cy="218.7" r="0.95"/><circle cx="466.5" cy="226.4" r="0.95"/><circle cx="466.5" cy="234.1" r="0.95"/><circle cx="466.5" cy="241.8" r="0.95"/><circle cx="466.5" cy="249.5" r="0.95"/><circle cx="466.5" cy="257.2" r="0.95"/><circle cx="466.5" cy="264.9" r="0.95"/><circle cx="466.5" cy="272.6" r="0.95"/><circle cx="466.5" cy="280.3" r="0.95"/><circle cx="466.5" cy="288.0" r="0.95"/><circle cx="466.5" cy="295.7" r="0.95"/><circle cx="466.5" cy="303.4" r="0.95"/><circle cx="466.5" cy="311.1" r="0.95"/><circle cx="466.5" cy="318.8" r="0.95"/><circle cx="466.5" cy="326.5" r="0.95"/><circle cx="466.5" cy="334.2" r="0.95"/><circle cx="466.5" cy="341.9" r="0.95"/><circle cx="466.5" cy="349.6" r="0.95"/></g>
<g fill="url(#bsph)"><circle cx="480.9" cy="210.8" r="1.25"/><circle cx="471.3" cy="213.5" r="1.25"/><circle cx="476.1" cy="216.0" r="1.25"/><circle cx="480.9" cy="218.5" r="1.25"/><circle cx="471.3" cy="221.2" r="1.25"/><circle cx="476.1" cy="223.7" r="1.25"/><circle cx="480.9" cy="226.2" r="1.25"/><circle cx="471.3" cy="228.9" r="1.25"/><circle cx="476.1" cy="231.4" r="1.25"/><circle cx="480.9" cy="233.9" r="1.25"/><circle cx="471.3" cy="236.6" r="1.25"/><circle cx="476.1" cy="239.1" r="1.25"/><circle cx="480.9" cy="241.6" r="1.25"/><circle cx="471.3" cy="244.3" r="1.25"/><circle cx="476.1" cy="246.8" r="1.25"/><circle cx="480.9" cy="249.3" r="1.25"/><circle cx="471.3" cy="252.0" r="1.25"/><circle cx="476.1" cy="254.5" r="1.25"/><circle cx="480.9" cy="257.0" r="1.25"/><circle cx="471.3" cy="259.7" r="1.25"/><circle cx="476.1" cy="262.2" r="1.25"/><circle cx="480.9" cy="264.7" r="1.25"/><circle cx="471.3" cy="267.4" r="1.25"/><circle cx="476.1" cy="269.9" r="1.25"/><circle cx="480.9" cy="272.4" r="1.25"/><circle cx="471.3" cy="275.1" r="1.25"/><circle cx="476.1" cy="277.6" r="1.25"/><circle cx="480.9" cy="280.1" r="1.25"/><circle cx="471.3" cy="282.8" r="1.25"/><circle cx="476.1" cy="285.3" r="1.25"/><circle cx="480.9" cy="287.8" r="1.25"/><circle cx="471.3" cy="290.5" r="1.25"/><circle cx="476.1" cy="293.0" r="1.25"/><circle cx="480.9" cy="295.5" r="1.25"/><circle cx="471.3" cy="298.2" r="1.25"/><circle cx="476.1" cy="300.7" r="1.25"/><circle cx="480.9" cy="303.2" r="1.25"/><circle cx="471.3" cy="305.9" r="1.25"/><circle cx="476.1" cy="308.4" r="1.25"/><circle cx="480.9" cy="310.9" r="1.25"/><circle cx="471.3" cy="313.6" r="1.25"/><circle cx="476.1" cy="316.1" r="1.25"/><circle cx="480.9" cy="318.6" r="1.25"/><circle cx="471.3" cy="321.3" r="1.25"/><circle cx="476.1" cy="323.8" r="1.25"/><circle cx="480.9" cy="326.3" r="1.25"/><circle cx="471.3" cy="329.0" r="1.25"/><circle cx="476.1" cy="331.5" r="1.25"/><circle cx="480.9" cy="334.0" r="1.25"/><circle cx="471.3" cy="336.7" r="1.25"/><circle cx="476.1" cy="339.2" r="1.25"/><circle cx="480.9" cy="341.7" r="1.25"/><circle cx="471.3" cy="344.4" r="1.25"/><circle cx="476.1" cy="346.9" r="1.25"/><circle cx="480.9" cy="349.4" r="1.25"/><circle cx="471.3" cy="352.1" r="1.25"/></g>
<path d="M510.8,213.0L515.4,215.5M515.4,215.5L520.0,218.0M520.0,218.0L524.6,220.5M520.0,218.0L524.6,212.8M510.8,220.7L515.4,223.2M510.8,220.7L515.4,215.5M515.4,223.2L520.0,225.7M515.4,223.2L520.0,218.0M520.0,225.7L524.6,228.2M520.0,225.7L524.6,220.5M510.8,228.4L515.4,230.9M510.8,228.4L515.4,223.2M515.4,230.9L520.0,233.4M515.4,230.9L520.0,225.7M520.0,233.4L524.6,235.9M520.0,233.4L524.6,228.2M510.8,236.1L515.4,238.6M510.8,236.1L515.4,230.9M515.4,238.6L520.0,241.1M515.4,238.6L520.0,233.4M520.0,241.1L524.6,243.6M520.0,241.1L524.6,235.9M510.8,243.8L515.4,246.3M510.8,243.8L515.4,238.6M515.4,246.3L520.0,248.8M515.4,246.3L520.0,241.1M520.0,248.8L524.6,251.3M520.0,248.8L524.6,243.6M510.8,251.5L515.4,254.0M510.8,251.5L515.4,246.3M515.4,254.0L520.0,256.5M515.4,254.0L520.0,248.8M520.0,256.5L524.6,259.0M520.0,256.5L524.6,251.3M510.8,259.2L515.4,261.7M510.8,259.2L515.4,254.0M515.4,261.7L520.0,264.2M515.4,261.7L520.0,256.5M520.0,264.2L524.6,266.7M520.0,264.2L524.6,259.0M510.8,266.9L515.4,269.4M510.8,266.9L515.4,261.7M515.4,269.4L520.0,271.9M515.4,269.4L520.0,264.2M520.0,271.9L524.6,274.4M520.0,271.9L524.6,266.7M510.8,274.6L515.4,277.1M510.8,274.6L515.4,269.4M515.4,277.1L520.0,279.6M515.4,277.1L520.0,271.9M520.0,279.6L524.6,282.1M520.0,279.6L524.6,274.4M510.8,282.3L515.4,284.8M510.8,282.3L515.4,277.1M515.4,284.8L520.0,287.3M515.4,284.8L520.0,279.6M520.0,287.3L524.6,289.8M520.0,287.3L524.6,282.1M510.8,290.0L515.4,292.5M510.8,290.0L515.4,284.8M515.4,292.5L520.0,295.0M515.4,292.5L520.0,287.3M520.0,295.0L524.6,297.5M520.0,295.0L524.6,289.8M510.8,297.7L515.4,300.2M510.8,297.7L515.4,292.5M515.4,300.2L520.0,302.7M515.4,300.2L520.0,295.0M520.0,302.7L524.6,305.2M520.0,302.7L524.6,297.5M510.8,305.4L515.4,307.9M510.8,305.4L515.4,300.2M515.4,307.9L520.0,310.4M515.4,307.9L520.0,302.7M520.0,310.4L524.6,312.9M520.0,310.4L524.6,305.2M510.8,313.1L515.4,315.6M510.8,313.1L515.4,307.9M515.4,315.6L520.0,318.1M515.4,315.6L520.0,310.4M520.0,318.1L524.6,320.6M520.0,318.1L524.6,312.9M510.8,320.8L515.4,323.3M510.8,320.8L515.4,315.6M515.4,323.3L520.0,325.8M515.4,323.3L520.0,318.1M520.0,325.8L524.6,328.3M520.0,325.8L524.6,320.6M510.8,328.5L515.4,331.0M510.8,328.5L515.4,323.3M515.4,331.0L520.0,333.5M515.4,331.0L520.0,325.8M520.0,333.5L524.6,336.0M520.0,333.5L524.6,328.3M510.8,336.2L515.4,338.7M510.8,336.2L515.4,331.0M515.4,338.7L520.0,341.2M515.4,338.7L520.0,333.5M520.0,341.2L524.6,343.7M520.0,341.2L524.6,336.0M510.8,343.9L515.4,346.4M510.8,343.9L515.4,338.7M515.4,346.4L520.0,348.9M515.4,346.4L520.0,341.2M520.0,348.9L524.6,351.4M520.0,348.9L524.6,343.7M510.8,351.6L515.4,354.1M510.8,351.6L515.4,346.4M515.4,354.1L520.0,348.9" stroke="#8c9a8c" stroke-width="0.4" fill="none"/>
<g fill="#7ea35e"><circle cx="522.3" cy="215.4" r="0.5"/><circle cx="517.7" cy="220.6" r="0.5"/><circle cx="522.3" cy="223.1" r="0.5"/><circle cx="517.7" cy="228.3" r="0.5"/><circle cx="522.3" cy="230.8" r="0.5"/><circle cx="517.7" cy="236.0" r="0.5"/><circle cx="522.3" cy="238.5" r="0.5"/><circle cx="517.7" cy="243.7" r="0.5"/><circle cx="522.3" cy="246.2" r="0.5"/><circle cx="517.7" cy="251.4" r="0.5"/><circle cx="522.3" cy="253.9" r="0.5"/><circle cx="517.7" cy="259.1" r="0.5"/><circle cx="522.3" cy="261.6" r="0.5"/><circle cx="517.7" cy="266.8" r="0.5"/><circle cx="522.3" cy="269.3" r="0.5"/><circle cx="517.7" cy="274.5" r="0.5"/><circle cx="522.3" cy="277.0" r="0.5"/><circle cx="517.7" cy="282.2" r="0.5"/><circle cx="522.3" cy="284.7" r="0.5"/><circle cx="517.7" cy="289.9" r="0.5"/><circle cx="522.3" cy="292.4" r="0.5"/><circle cx="517.7" cy="297.6" r="0.5"/><circle cx="522.3" cy="300.1" r="0.5"/><circle cx="517.7" cy="305.3" r="0.5"/><circle cx="522.3" cy="307.8" r="0.5"/><circle cx="517.7" cy="313.0" r="0.5"/><circle cx="522.3" cy="315.5" r="0.5"/><circle cx="517.7" cy="320.7" r="0.5"/><circle cx="522.3" cy="323.2" r="0.5"/><circle cx="517.7" cy="328.4" r="0.5"/><circle cx="522.3" cy="330.9" r="0.5"/><circle cx="517.7" cy="336.1" r="0.5"/><circle cx="522.3" cy="338.6" r="0.5"/><circle cx="517.7" cy="343.8" r="0.5"/><circle cx="522.3" cy="346.3" r="0.5"/><circle cx="517.7" cy="351.5" r="0.5"/></g>
<g fill="#b5532d"><circle cx="510.8" cy="213.0" r="0.95"/><circle cx="510.8" cy="220.7" r="0.95"/><circle cx="510.8" cy="228.4" r="0.95"/><circle cx="510.8" cy="236.1" r="0.95"/><circle cx="510.8" cy="243.8" r="0.95"/><circle cx="510.8" cy="251.5" r="0.95"/><circle cx="510.8" cy="259.2" r="0.95"/><circle cx="510.8" cy="266.9" r="0.95"/><circle cx="510.8" cy="274.6" r="0.95"/><circle cx="510.8" cy="282.3" r="0.95"/><circle cx="510.8" cy="290.0" r="0.95"/><circle cx="510.8" cy="297.7" r="0.95"/><circle cx="510.8" cy="305.4" r="0.95"/><circle cx="510.8" cy="313.1" r="0.95"/><circle cx="510.8" cy="320.8" r="0.95"/><circle cx="510.8" cy="328.5" r="0.95"/><circle cx="510.8" cy="336.2" r="0.95"/><circle cx="510.8" cy="343.9" r="0.95"/><circle cx="510.8" cy="351.6" r="0.95"/></g>
<g fill="url(#bsph)"><circle cx="524.6" cy="212.8" r="1.25"/><circle cx="515.4" cy="215.5" r="1.25"/><circle cx="520.0" cy="218.0" r="1.25"/><circle cx="524.6" cy="220.5" r="1.25"/><circle cx="515.4" cy="223.2" r="1.25"/><circle cx="520.0" cy="225.7" r="1.25"/><circle cx="524.6" cy="228.2" r="1.25"/><circle cx="515.4" cy="230.9" r="1.25"/><circle cx="520.0" cy="233.4" r="1.25"/><circle cx="524.6" cy="235.9" r="1.25"/><circle cx="515.4" cy="238.6" r="1.25"/><circle cx="520.0" cy="241.1" r="1.25"/><circle cx="524.6" cy="243.6" r="1.25"/><circle cx="515.4" cy="246.3" r="1.25"/><circle cx="520.0" cy="248.8" r="1.25"/><circle cx="524.6" cy="251.3" r="1.25"/><circle cx="515.4" cy="254.0" r="1.25"/><circle cx="520.0" cy="256.5" r="1.25"/><circle cx="524.6" cy="259.0" r="1.25"/><circle cx="515.4" cy="261.7" r="1.25"/><circle cx="520.0" cy="264.2" r="1.25"/><circle cx="524.6" cy="266.7" r="1.25"/><circle cx="515.4" cy="269.4" r="1.25"/><circle cx="520.0" cy="271.9" r="1.25"/><circle cx="524.6" cy="274.4" r="1.25"/><circle cx="515.4" cy="277.1" r="1.25"/><circle cx="520.0" cy="279.6" r="1.25"/><circle cx="524.6" cy="282.1" r="1.25"/><circle cx="515.4" cy="284.8" r="1.25"/><circle cx="520.0" cy="287.3" r="1.25"/><circle cx="524.6" cy="289.8" r="1.25"/><circle cx="515.4" cy="292.5" r="1.25"/><circle cx="520.0" cy="295.0" r="1.25"/><circle cx="524.6" cy="297.5" r="1.25"/><circle cx="515.4" cy="300.2" r="1.25"/><circle cx="520.0" cy="302.7" r="1.25"/><circle cx="524.6" cy="305.2" r="1.25"/><circle cx="515.4" cy="307.9" r="1.25"/><circle cx="520.0" cy="310.4" r="1.25"/><circle cx="524.6" cy="312.9" r="1.25"/><circle cx="515.4" cy="315.6" r="1.25"/><circle cx="520.0" cy="318.1" r="1.25"/><circle cx="524.6" cy="320.6" r="1.25"/><circle cx="515.4" cy="323.3" r="1.25"/><circle cx="520.0" cy="325.8" r="1.25"/><circle cx="524.6" cy="328.3" r="1.25"/><circle cx="515.4" cy="331.0" r="1.25"/><circle cx="520.0" cy="333.5" r="1.25"/><circle cx="524.6" cy="336.0" r="1.25"/><circle cx="515.4" cy="338.7" r="1.25"/><circle cx="520.0" cy="341.2" r="1.25"/><circle cx="524.6" cy="343.7" r="1.25"/><circle cx="515.4" cy="346.4" r="1.25"/><circle cx="520.0" cy="348.9" r="1.25"/><circle cx="524.6" cy="351.4" r="1.25"/><circle cx="515.4" cy="354.1" r="1.25"/></g>
<rect x="487.7" y="220.5" width="20.3" height="131.5" rx="10.2" ry="16" fill="url(#tanp)"/>
<clipPath id="cap4862t"><path d="M486.2,208.5 L509.5,207.5 L509.5,235.5 Q499.015,224.5 486.2,226.5 Z"/></clipPath>
<clipPath id="cap4862b"><path d="M486.2,343 Q497.85,349 509.5,342 L509.5,358 L486.2,358 Z"/></clipPath>
<g clip-path="url(#cap4862t)"><rect x="486.2" y="206.5" width="23.30000000000001" height="30.0" fill="#fbfbfb"/><rect x="486.2" y="206.5" width="23.30000000000001" height="30.0" fill="url(#honey)"/></g>
<g clip-path="url(#cap4862b)"><rect x="486.2" y="341" width="23.30000000000001" height="18" fill="#fbfbfb"/><rect x="486.2" y="341" width="23.30000000000001" height="18" fill="url(#honey)"/></g>
<rect x="486.2" y="208.5" width="3.6" height="149.5" fill="url(#honey)"/>
<rect x="505.9" y="208.5" width="3.6" height="149.5" fill="url(#honey)"/>
<g fill="#2b2b2b"><circle cx="487.2" cy="208.5" r="1.0"/><circle cx="508.5" cy="208.5" r="1.0"/><circle cx="487.2" cy="211.1" r="1.0"/><circle cx="508.5" cy="211.1" r="1.0"/><circle cx="487.2" cy="213.7" r="1.0"/><circle cx="508.5" cy="213.7" r="1.0"/><circle cx="487.2" cy="216.3" r="1.0"/><circle cx="508.5" cy="216.3" r="1.0"/><circle cx="487.2" cy="218.9" r="1.0"/><circle cx="508.5" cy="218.9" r="1.0"/><circle cx="487.2" cy="221.5" r="1.0"/><circle cx="508.5" cy="221.5" r="1.0"/><circle cx="487.2" cy="224.1" r="1.0"/><circle cx="508.5" cy="224.1" r="1.0"/><circle cx="487.2" cy="226.7" r="1.0"/><circle cx="508.5" cy="226.7" r="1.0"/><circle cx="487.2" cy="229.3" r="1.0"/><circle cx="508.5" cy="229.3" r="1.0"/><circle cx="487.2" cy="231.9" r="1.0"/><circle cx="508.5" cy="231.9" r="1.0"/><circle cx="487.2" cy="234.5" r="1.0"/><circle cx="508.5" cy="234.5" r="1.0"/><circle cx="487.2" cy="237.1" r="1.0"/><circle cx="508.5" cy="237.1" r="1.0"/><circle cx="487.2" cy="239.7" r="1.0"/><circle cx="508.5" cy="239.7" r="1.0"/><circle cx="487.2" cy="242.3" r="1.0"/><circle cx="508.5" cy="242.3" r="1.0"/><circle cx="487.2" cy="244.9" r="1.0"/><circle cx="508.5" cy="244.9" r="1.0"/><circle cx="487.2" cy="247.5" r="1.0"/><circle cx="508.5" cy="247.5" r="1.0"/><circle cx="487.2" cy="250.1" r="1.0"/><circle cx="508.5" cy="250.1" r="1.0"/><circle cx="487.2" cy="252.7" r="1.0"/><circle cx="508.5" cy="252.7" r="1.0"/><circle cx="487.2" cy="255.3" r="1.0"/><circle cx="508.5" cy="255.3" r="1.0"/><circle cx="487.2" cy="257.9" r="1.0"/><circle cx="508.5" cy="257.9" r="1.0"/><circle cx="487.2" cy="260.5" r="1.0"/><circle cx="508.5" cy="260.5" r="1.0"/><circle cx="487.2" cy="263.1" r="1.0"/><circle cx="508.5" cy="263.1" r="1.0"/><circle cx="487.2" cy="265.7" r="1.0"/><circle cx="508.5" cy="265.7" r="1.0"/><circle cx="487.2" cy="268.3" r="1.0"/><circle cx="508.5" cy="268.3" r="1.0"/><circle cx="487.2" cy="270.9" r="1.0"/><circle cx="508.5" cy="270.9" r="1.0"/><circle cx="487.2" cy="273.5" r="1.0"/><circle cx="508.5" cy="273.5" r="1.0"/><circle cx="487.2" cy="276.1" r="1.0"/><circle cx="508.5" cy="276.1" r="1.0"/><circle cx="487.2" cy="278.7" r="1.0"/><circle cx="508.5" cy="278.7" r="1.0"/><circle cx="487.2" cy="281.3" r="1.0"/><circle cx="508.5" cy="281.3" r="1.0"/><circle cx="487.2" cy="283.9" r="1.0"/><circle cx="508.5" cy="283.9" r="1.0"/><circle cx="487.2" cy="286.5" r="1.0"/><circle cx="508.5" cy="286.5" r="1.0"/><circle cx="487.2" cy="289.1" r="1.0"/><circle cx="508.5" cy="289.1" r="1.0"/><circle cx="487.2" cy="291.7" r="1.0"/><circle cx="508.5" cy="291.7" r="1.0"/><circle cx="487.2" cy="294.3" r="1.0"/><circle cx="508.5" cy="294.3" r="1.0"/><circle cx="487.2" cy="296.9" r="1.0"/><circle cx="508.5" cy="296.9" r="1.0"/><circle cx="487.2" cy="299.5" r="1.0"/><circle cx="508.5" cy="299.5" r="1.0"/><circle cx="487.2" cy="302.1" r="1.0"/><circle cx="508.5" cy="302.1" r="1.0"/><circle cx="487.2" cy="304.7" r="1.0"/><circle cx="508.5" cy="304.7" r="1.0"/><circle cx="487.2" cy="307.3" r="1.0"/><circle cx="508.5" cy="307.3" r="1.0"/><circle cx="487.2" cy="309.9" r="1.0"/><circle cx="508.5" cy="309.9" r="1.0"/><circle cx="487.2" cy="312.5" r="1.0"/><circle cx="508.5" cy="312.5" r="1.0"/><circle cx="487.2" cy="315.1" r="1.0"/><circle cx="508.5" cy="315.1" r="1.0"/><circle cx="487.2" cy="317.7" r="1.0"/><circle cx="508.5" cy="317.7" r="1.0"/><circle cx="487.2" cy="320.3" r="1.0"/><circle cx="508.5" cy="320.3" r="1.0"/><circle cx="487.2" cy="322.9" r="1.0"/><circle cx="508.5" cy="322.9" r="1.0"/><circle cx="487.2" cy="325.5" r="1.0"/><circle cx="508.5" cy="325.5" r="1.0"/><circle cx="487.2" cy="328.1" r="1.0"/><circle cx="508.5" cy="328.1" r="1.0"/><circle cx="487.2" cy="330.7" r="1.0"/><circle cx="508.5" cy="330.7" r="1.0"/><circle cx="487.2" cy="333.3" r="1.0"/><circle cx="508.5" cy="333.3" r="1.0"/><circle cx="487.2" cy="335.9" r="1.0"/><circle cx="508.5" cy="335.9" r="1.0"/><circle cx="487.2" cy="338.5" r="1.0"/><circle cx="508.5" cy="338.5" r="1.0"/><circle cx="487.2" cy="341.1" r="1.0"/><circle cx="508.5" cy="341.1" r="1.0"/><circle cx="487.2" cy="343.7" r="1.0"/><circle cx="508.5" cy="343.7" r="1.0"/><circle cx="487.2" cy="346.3" r="1.0"/><circle cx="508.5" cy="346.3" r="1.0"/><circle cx="487.2" cy="348.9" r="1.0"/><circle cx="508.5" cy="348.9" r="1.0"/><circle cx="487.2" cy="351.5" r="1.0"/><circle cx="508.5" cy="351.5" r="1.0"/><circle cx="487.2" cy="354.1" r="1.0"/><circle cx="508.5" cy="354.1" r="1.0"/><circle cx="487.2" cy="356.7" r="1.0"/><circle cx="508.5" cy="356.7" r="1.0"/></g>
<rect x="529.3" y="221.0" width="19.8" height="131.0" rx="9.9" ry="16" fill="url(#tanp)"/>
<clipPath id="cap5278t"><path d="M527.8,209 L550.6,208 L550.6,237 Q540.34,227 527.8,229 Z"/></clipPath>
<clipPath id="cap5278b"><path d="M527.8,343 Q539.2,349 550.6,342 L550.6,358 L527.8,358 Z"/></clipPath>
<g clip-path="url(#cap5278t)"><rect x="527.8" y="207" width="22.800000000000068" height="31" fill="#fbfbfb"/><rect x="527.8" y="207" width="22.800000000000068" height="31" fill="url(#honey)"/></g>
<g clip-path="url(#cap5278b)"><rect x="527.8" y="341" width="22.800000000000068" height="18" fill="#fbfbfb"/><rect x="527.8" y="341" width="22.800000000000068" height="18" fill="url(#honey)"/></g>
<rect x="527.8" y="209" width="3.6" height="149" fill="url(#honey)"/>
<rect x="547.0" y="209" width="3.6" height="149" fill="url(#honey)"/>
<g fill="#2b2b2b"><circle cx="528.8" cy="209.0" r="1.0"/><circle cx="549.6" cy="209.0" r="1.0"/><circle cx="528.8" cy="211.6" r="1.0"/><circle cx="549.6" cy="211.6" r="1.0"/><circle cx="528.8" cy="214.2" r="1.0"/><circle cx="549.6" cy="214.2" r="1.0"/><circle cx="528.8" cy="216.8" r="1.0"/><circle cx="549.6" cy="216.8" r="1.0"/><circle cx="528.8" cy="219.4" r="1.0"/><circle cx="549.6" cy="219.4" r="1.0"/><circle cx="528.8" cy="222.0" r="1.0"/><circle cx="549.6" cy="222.0" r="1.0"/><circle cx="528.8" cy="224.6" r="1.0"/><circle cx="549.6" cy="224.6" r="1.0"/><circle cx="528.8" cy="227.2" r="1.0"/><circle cx="549.6" cy="227.2" r="1.0"/><circle cx="528.8" cy="229.8" r="1.0"/><circle cx="549.6" cy="229.8" r="1.0"/><circle cx="528.8" cy="232.4" r="1.0"/><circle cx="549.6" cy="232.4" r="1.0"/><circle cx="528.8" cy="235.0" r="1.0"/><circle cx="549.6" cy="235.0" r="1.0"/><circle cx="528.8" cy="237.6" r="1.0"/><circle cx="549.6" cy="237.6" r="1.0"/><circle cx="528.8" cy="240.2" r="1.0"/><circle cx="549.6" cy="240.2" r="1.0"/><circle cx="528.8" cy="242.8" r="1.0"/><circle cx="549.6" cy="242.8" r="1.0"/><circle cx="528.8" cy="245.4" r="1.0"/><circle cx="549.6" cy="245.4" r="1.0"/><circle cx="528.8" cy="248.0" r="1.0"/><circle cx="549.6" cy="248.0" r="1.0"/><circle cx="528.8" cy="250.6" r="1.0"/><circle cx="549.6" cy="250.6" r="1.0"/><circle cx="528.8" cy="253.2" r="1.0"/><circle cx="549.6" cy="253.2" r="1.0"/><circle cx="528.8" cy="255.8" r="1.0"/><circle cx="549.6" cy="255.8" r="1.0"/><circle cx="528.8" cy="258.4" r="1.0"/><circle cx="549.6" cy="258.4" r="1.0"/><circle cx="528.8" cy="261.0" r="1.0"/><circle cx="549.6" cy="261.0" r="1.0"/><circle cx="528.8" cy="263.6" r="1.0"/><circle cx="549.6" cy="263.6" r="1.0"/><circle cx="528.8" cy="266.2" r="1.0"/><circle cx="549.6" cy="266.2" r="1.0"/><circle cx="528.8" cy="268.8" r="1.0"/><circle cx="549.6" cy="268.8" r="1.0"/><circle cx="528.8" cy="271.4" r="1.0"/><circle cx="549.6" cy="271.4" r="1.0"/><circle cx="528.8" cy="274.0" r="1.0"/><circle cx="549.6" cy="274.0" r="1.0"/><circle cx="528.8" cy="276.6" r="1.0"/><circle cx="549.6" cy="276.6" r="1.0"/><circle cx="528.8" cy="279.2" r="1.0"/><circle cx="549.6" cy="279.2" r="1.0"/><circle cx="528.8" cy="281.8" r="1.0"/><circle cx="549.6" cy="281.8" r="1.0"/><circle cx="528.8" cy="284.4" r="1.0"/><circle cx="549.6" cy="284.4" r="1.0"/><circle cx="528.8" cy="287.0" r="1.0"/><circle cx="549.6" cy="287.0" r="1.0"/><circle cx="528.8" cy="289.6" r="1.0"/><circle cx="549.6" cy="289.6" r="1.0"/><circle cx="528.8" cy="292.2" r="1.0"/><circle cx="549.6" cy="292.2" r="1.0"/><circle cx="528.8" cy="294.8" r="1.0"/><circle cx="549.6" cy="294.8" r="1.0"/><circle cx="528.8" cy="297.4" r="1.0"/><circle cx="549.6" cy="297.4" r="1.0"/><circle cx="528.8" cy="300.0" r="1.0"/><circle cx="549.6" cy="300.0" r="1.0"/><circle cx="528.8" cy="302.6" r="1.0"/><circle cx="549.6" cy="302.6" r="1.0"/><circle cx="528.8" cy="305.2" r="1.0"/><circle cx="549.6" cy="305.2" r="1.0"/><circle cx="528.8" cy="307.8" r="1.0"/><circle cx="549.6" cy="307.8" r="1.0"/><circle cx="528.8" cy="310.4" r="1.0"/><circle cx="549.6" cy="310.4" r="1.0"/><circle cx="528.8" cy="313.0" r="1.0"/><circle cx="549.6" cy="313.0" r="1.0"/><circle cx="528.8" cy="315.6" r="1.0"/><circle cx="549.6" cy="315.6" r="1.0"/><circle cx="528.8" cy="318.2" r="1.0"/><circle cx="549.6" cy="318.2" r="1.0"/><circle cx="528.8" cy="320.8" r="1.0"/><circle cx="549.6" cy="320.8" r="1.0"/><circle cx="528.8" cy="323.4" r="1.0"/><circle cx="549.6" cy="323.4" r="1.0"/><circle cx="528.8" cy="326.0" r="1.0"/><circle cx="549.6" cy="326.0" r="1.0"/><circle cx="528.8" cy="328.6" r="1.0"/><circle cx="549.6" cy="328.6" r="1.0"/><circle cx="528.8" cy="331.2" r="1.0"/><circle cx="549.6" cy="331.2" r="1.0"/><circle cx="528.8" cy="333.8" r="1.0"/><circle cx="549.6" cy="333.8" r="1.0"/><circle cx="528.8" cy="336.4" r="1.0"/><circle cx="549.6" cy="336.4" r="1.0"/><circle cx="528.8" cy="339.0" r="1.0"/><circle cx="549.6" cy="339.0" r="1.0"/><circle cx="528.8" cy="341.6" r="1.0"/><circle cx="549.6" cy="341.6" r="1.0"/><circle cx="528.8" cy="344.2" r="1.0"/><circle cx="549.6" cy="344.2" r="1.0"/><circle cx="528.8" cy="346.8" r="1.0"/><circle cx="549.6" cy="346.8" r="1.0"/><circle cx="528.8" cy="349.4" r="1.0"/><circle cx="549.6" cy="349.4" r="1.0"/><circle cx="528.8" cy="352.0" r="1.0"/><circle cx="549.6" cy="352.0" r="1.0"/><circle cx="528.8" cy="354.6" r="1.0"/><circle cx="549.6" cy="354.6" r="1.0"/><circle cx="528.8" cy="357.2" r="1.0"/><circle cx="549.6" cy="357.2" r="1.0"/></g>
<text transform="translate(492.70000000000005 239) rotate(90)" font-size="8.2" font-weight="bold" fill="#2c4c9c" stroke="#2c4c9c" stroke-width="0.15" font-family='"Liberation Serif", serif'>π electrons</text>
<text transform="translate(536.6 239) rotate(90)" font-size="8.2" font-weight="bold" fill="#2c4c9c" stroke="#2c4c9c" stroke-width="0.15" font-family='"Liberation Serif", serif'>π electrons</text>
<path d="M549,210.6 L559.7,210.6 L559.7,278.4 M555.9,278.4 L563.1,278.4 M553.8,282.8 L565.5,282.8 M559.7,282.8 L559.7,362.3" stroke="#222" stroke-width="1" fill="none"/>
<path d="M518,362.3 L518.7,361.2 L520.1,363.4 L521.5,361.2 L522.9,363.4 L524.3,361.2 L525.7,363.4 L527.1,361.2 L528.5,363.4 L529.9,361.2 L531.3,363.4 L532.7,361.2 L534.1,363.4 L535.5,361.2 L536.9,363.4 L538.3,361.2 L539.7,363.4 L541.1,361.2 L542.5,363.4 L543.9,361.2 L545.3,363.4 L546.7,361.2 L548.1,363.4 L549.5,361.2 L550.9,363.4 L552.3,361.2 L553.7,363.4 L555.1,361.2 L556.5,363.4 L557.9,361.2 L559.3,363.4" stroke="#bcaec4" stroke-width="0.7" fill="none"/>
<rect x="493.70" y="280.10" width="48.30" height="11.40" fill="#b7c3d6" />
<text x="518.00" y="289.00" font-size="8.65" font-weight="bold" text-anchor="middle" fill="#000"  stroke="#000" stroke-width="0.28">Insulating</text>
<path d="M489.8,316 C490,306 499,299.5 511.5,298.3" stroke="#2f6fd0" stroke-width="4" fill="none"/>
<path d="M510,294.6 L515.6,298.2 L510.4,302 Z" fill="#2f6fd0"/>
<path d="M546.4,316 C546,306 537,299.5 525.5,298.3" stroke="#2f6fd0" stroke-width="4" fill="none"/>
<path d="M527,294.6 L521.4,298.2 L526.6,302 Z" fill="#2f6fd0"/>
<path d="M518.7,299.2 m-2.8,-2.8 l5.6,5.6 m0,-5.6 l-5.6,5.6" stroke="#e83a3a" stroke-width="1.3"/>
<rect x="485.70" y="318.60" width="63.90" height="25.00" fill="#b0dbe1" />
<line x1="486.00" y1="331.20" x2="549.50" y2="331.20" stroke="#9fbfc4" stroke-width="1.2" opacity="0.6"/>
<text x="517.60" y="327.80" font-size="8.6" font-weight="bold" text-anchor="middle" fill="#cc1010"  stroke="#cc1010" stroke-width="0.28">Energy barrier</text>
<text x="517.60" y="340.80" font-size="8.5" font-weight="bold" text-anchor="middle" fill="#cc1010"  stroke="#cc1010" stroke-width="0.28">0.31 eV/0.46 eV</text>
<text x="592.80" y="205.90" font-size="9.6" font-weight="bold" text-anchor="start" fill="#000"  stroke="#000" stroke-width="0.28">CNTs-PVDF</text>
<path d="M590.5,211.0L596.3,214.0M596.3,214.0L602.1,217.0M602.1,217.0L607.9,220.0M602.1,217.0L607.9,212.4M590.5,218.6L596.3,221.6M590.5,218.6L596.3,214.0M596.3,221.6L602.1,224.6M596.3,221.6L602.1,217.0M602.1,224.6L607.9,227.6M602.1,224.6L607.9,220.0M590.5,226.2L596.3,229.2M590.5,226.2L596.3,221.6M596.3,229.2L602.1,232.2M596.3,229.2L602.1,224.6M602.1,232.2L607.9,235.2M602.1,232.2L607.9,227.6M590.5,233.8L596.3,236.8M590.5,233.8L596.3,229.2M596.3,236.8L602.1,239.8M596.3,236.8L602.1,232.2M602.1,239.8L607.9,242.8M602.1,239.8L607.9,235.2M590.5,241.4L596.3,244.4M590.5,241.4L596.3,236.8M596.3,244.4L602.1,247.4M596.3,244.4L602.1,239.8M602.1,247.4L607.9,250.4M602.1,247.4L607.9,242.8M590.5,249.0L596.3,252.0M590.5,249.0L596.3,244.4M596.3,252.0L602.1,255.0M596.3,252.0L602.1,247.4M602.1,255.0L607.9,258.0M602.1,255.0L607.9,250.4M590.5,256.6L596.3,259.6M590.5,256.6L596.3,252.0M596.3,259.6L602.1,262.6M596.3,259.6L602.1,255.0M602.1,262.6L607.9,265.6M602.1,262.6L607.9,258.0M590.5,264.2L596.3,267.2M590.5,264.2L596.3,259.6M596.3,267.2L602.1,270.2M596.3,267.2L602.1,262.6M602.1,270.2L607.9,273.2M602.1,270.2L607.9,265.6M590.5,271.8L596.3,274.8M590.5,271.8L596.3,267.2M596.3,274.8L602.1,277.8M596.3,274.8L602.1,270.2M602.1,277.8L607.9,280.8M602.1,277.8L607.9,273.2M590.5,279.4L596.3,282.4M590.5,279.4L596.3,274.8M596.3,282.4L602.1,285.4M596.3,282.4L602.1,277.8M602.1,285.4L607.9,288.4M602.1,285.4L607.9,280.8M590.5,287.0L596.3,290.0M590.5,287.0L596.3,282.4M596.3,290.0L602.1,293.0M596.3,290.0L602.1,285.4M602.1,293.0L607.9,296.0M602.1,293.0L607.9,288.4M590.5,294.6L596.3,297.6M590.5,294.6L596.3,290.0M596.3,297.6L602.1,300.6M596.3,297.6L602.1,293.0M602.1,300.6L607.9,303.6M602.1,300.6L607.9,296.0M590.5,302.2L596.3,305.2M590.5,302.2L596.3,297.6M596.3,305.2L602.1,308.2M596.3,305.2L602.1,300.6M602.1,308.2L607.9,311.2M602.1,308.2L607.9,303.6M590.5,309.8L596.3,312.8M590.5,309.8L596.3,305.2M596.3,312.8L602.1,315.8M596.3,312.8L602.1,308.2M602.1,315.8L607.9,318.8M602.1,315.8L607.9,311.2M590.5,317.4L596.3,320.4M590.5,317.4L596.3,312.8M596.3,320.4L602.1,323.4M596.3,320.4L602.1,315.8M602.1,323.4L607.9,326.4M602.1,323.4L607.9,318.8M590.5,325.0L596.3,328.0M590.5,325.0L596.3,320.4M596.3,328.0L602.1,331.0M596.3,328.0L602.1,323.4M602.1,331.0L607.9,334.0M602.1,331.0L607.9,326.4M590.5,332.6L596.3,335.6M590.5,332.6L596.3,328.0M596.3,335.6L602.1,338.6M596.3,335.6L602.1,331.0M602.1,338.6L607.9,341.6M602.1,338.6L607.9,334.0M590.5,340.2L596.3,343.2M590.5,340.2L596.3,335.6M596.3,343.2L602.1,346.2M596.3,343.2L602.1,338.6M602.1,346.2L607.9,349.2M602.1,346.2L607.9,341.6M590.5,347.8L596.3,350.8M590.5,347.8L596.3,343.2M596.3,350.8L602.1,353.8M596.3,350.8L602.1,346.2M602.1,353.8L607.9,349.2M590.5,355.4L596.3,350.8" stroke="#7a8a7a" stroke-width="0.5" fill="none"/>
<g fill="#8a9a5a"><circle cx="605.0" cy="214.7" r="0.5"/><circle cx="599.2" cy="219.3" r="0.5"/><circle cx="605.0" cy="222.3" r="0.5"/><circle cx="599.2" cy="226.9" r="0.5"/><circle cx="605.0" cy="229.9" r="0.5"/><circle cx="599.2" cy="234.5" r="0.5"/><circle cx="605.0" cy="237.5" r="0.5"/><circle cx="599.2" cy="242.1" r="0.5"/><circle cx="605.0" cy="245.1" r="0.5"/><circle cx="599.2" cy="249.7" r="0.5"/><circle cx="605.0" cy="252.7" r="0.5"/><circle cx="599.2" cy="257.3" r="0.5"/><circle cx="605.0" cy="260.3" r="0.5"/><circle cx="599.2" cy="264.9" r="0.5"/><circle cx="605.0" cy="267.9" r="0.5"/><circle cx="599.2" cy="272.5" r="0.5"/><circle cx="605.0" cy="275.5" r="0.5"/><circle cx="599.2" cy="280.1" r="0.5"/><circle cx="605.0" cy="283.1" r="0.5"/><circle cx="599.2" cy="287.7" r="0.5"/><circle cx="605.0" cy="290.7" r="0.5"/><circle cx="599.2" cy="295.3" r="0.5"/><circle cx="605.0" cy="298.3" r="0.5"/><circle cx="599.2" cy="302.9" r="0.5"/><circle cx="605.0" cy="305.9" r="0.5"/><circle cx="599.2" cy="310.5" r="0.5"/><circle cx="605.0" cy="313.5" r="0.5"/><circle cx="599.2" cy="318.1" r="0.5"/><circle cx="605.0" cy="321.1" r="0.5"/><circle cx="599.2" cy="325.7" r="0.5"/><circle cx="605.0" cy="328.7" r="0.5"/><circle cx="599.2" cy="333.3" r="0.5"/><circle cx="605.0" cy="336.3" r="0.5"/><circle cx="599.2" cy="340.9" r="0.5"/><circle cx="605.0" cy="343.9" r="0.5"/><circle cx="599.2" cy="348.5" r="0.5"/><circle cx="605.0" cy="351.5" r="0.5"/></g>
<g fill="#5f8a30"><circle cx="590.5" cy="211.0" r="0.95"/><circle cx="590.5" cy="218.6" r="0.95"/><circle cx="590.5" cy="226.2" r="0.95"/><circle cx="590.5" cy="233.8" r="0.95"/><circle cx="590.5" cy="241.4" r="0.95"/><circle cx="590.5" cy="249.0" r="0.95"/><circle cx="590.5" cy="256.6" r="0.95"/><circle cx="590.5" cy="264.2" r="0.95"/><circle cx="590.5" cy="271.8" r="0.95"/><circle cx="590.5" cy="279.4" r="0.95"/><circle cx="590.5" cy="287.0" r="0.95"/><circle cx="590.5" cy="294.6" r="0.95"/><circle cx="590.5" cy="302.2" r="0.95"/><circle cx="590.5" cy="309.8" r="0.95"/><circle cx="590.5" cy="317.4" r="0.95"/><circle cx="590.5" cy="325.0" r="0.95"/><circle cx="590.5" cy="332.6" r="0.95"/><circle cx="590.5" cy="340.2" r="0.95"/><circle cx="590.5" cy="347.8" r="0.95"/><circle cx="590.5" cy="355.4" r="0.95"/></g>
<g fill="#b8a52a"><circle cx="607.9" cy="212.4" r="0.95"/><circle cx="607.9" cy="220.0" r="0.95"/><circle cx="607.9" cy="227.6" r="0.95"/><circle cx="607.9" cy="235.2" r="0.95"/><circle cx="607.9" cy="242.8" r="0.95"/><circle cx="607.9" cy="250.4" r="0.95"/><circle cx="607.9" cy="258.0" r="0.95"/><circle cx="607.9" cy="265.6" r="0.95"/><circle cx="607.9" cy="273.2" r="0.95"/><circle cx="607.9" cy="280.8" r="0.95"/><circle cx="607.9" cy="288.4" r="0.95"/><circle cx="607.9" cy="296.0" r="0.95"/><circle cx="607.9" cy="303.6" r="0.95"/><circle cx="607.9" cy="311.2" r="0.95"/><circle cx="607.9" cy="318.8" r="0.95"/><circle cx="607.9" cy="326.4" r="0.95"/><circle cx="607.9" cy="334.0" r="0.95"/><circle cx="607.9" cy="341.6" r="0.95"/><circle cx="607.9" cy="349.2" r="0.95"/></g>
<g fill="url(#bsph)"><circle cx="596.3" cy="214.0" r="1.55"/><circle cx="602.1" cy="217.0" r="1.55"/><circle cx="596.3" cy="221.6" r="1.55"/><circle cx="602.1" cy="224.6" r="1.55"/><circle cx="596.3" cy="229.2" r="1.55"/><circle cx="602.1" cy="232.2" r="1.55"/><circle cx="596.3" cy="236.8" r="1.55"/><circle cx="602.1" cy="239.8" r="1.55"/><circle cx="596.3" cy="244.4" r="1.55"/><circle cx="602.1" cy="247.4" r="1.55"/><circle cx="596.3" cy="252.0" r="1.55"/><circle cx="602.1" cy="255.0" r="1.55"/><circle cx="596.3" cy="259.6" r="1.55"/><circle cx="602.1" cy="262.6" r="1.55"/><circle cx="596.3" cy="267.2" r="1.55"/><circle cx="602.1" cy="270.2" r="1.55"/><circle cx="596.3" cy="274.8" r="1.55"/><circle cx="602.1" cy="277.8" r="1.55"/><circle cx="596.3" cy="282.4" r="1.55"/><circle cx="602.1" cy="285.4" r="1.55"/><circle cx="596.3" cy="290.0" r="1.55"/><circle cx="602.1" cy="293.0" r="1.55"/><circle cx="596.3" cy="297.6" r="1.55"/><circle cx="602.1" cy="300.6" r="1.55"/><circle cx="596.3" cy="305.2" r="1.55"/><circle cx="602.1" cy="308.2" r="1.55"/><circle cx="596.3" cy="312.8" r="1.55"/><circle cx="602.1" cy="315.8" r="1.55"/><circle cx="596.3" cy="320.4" r="1.55"/><circle cx="602.1" cy="323.4" r="1.55"/><circle cx="596.3" cy="328.0" r="1.55"/><circle cx="602.1" cy="331.0" r="1.55"/><circle cx="596.3" cy="335.6" r="1.55"/><circle cx="602.1" cy="338.6" r="1.55"/><circle cx="596.3" cy="343.2" r="1.55"/><circle cx="602.1" cy="346.2" r="1.55"/><circle cx="596.3" cy="350.8" r="1.55"/><circle cx="602.1" cy="353.8" r="1.55"/></g>
<rect x="630.50" y="212.00" width="17.00" height="68.00" fill="#e8f1e5" />
<clipPath id="midp"><rect x="630.5" y="212" width="17" height="68"/></clipPath><g clip-path="url(#midp)">
<path d="M633.0,212.0L638.2,214.9M638.2,214.9L643.4,217.8M633.0,219.6L638.2,222.5M633.0,219.6L638.2,214.9M638.2,222.5L643.4,225.4M638.2,222.5L643.4,217.8M633.0,227.2L638.2,230.1M633.0,227.2L638.2,222.5M638.2,230.1L643.4,233.0M638.2,230.1L643.4,225.4M633.0,234.8L638.2,237.7M633.0,234.8L638.2,230.1M638.2,237.7L643.4,240.6M638.2,237.7L643.4,233.0M633.0,242.4L638.2,245.3M633.0,242.4L638.2,237.7M638.2,245.3L643.4,248.2M638.2,245.3L643.4,240.6M633.0,250.0L638.2,252.9M633.0,250.0L638.2,245.3M638.2,252.9L643.4,255.8M638.2,252.9L643.4,248.2M633.0,257.6L638.2,260.5M633.0,257.6L638.2,252.9M638.2,260.5L643.4,263.4M638.2,260.5L643.4,255.8M633.0,265.2L638.2,268.1M633.0,265.2L638.2,260.5M638.2,268.1L643.4,271.0M638.2,268.1L643.4,263.4M633.0,272.8L638.2,275.7M633.0,272.8L638.2,268.1M638.2,275.7L643.4,278.6M638.2,275.7L643.4,271.0" stroke="#8c9a8c" stroke-width="0.4" fill="none"/>
<g fill="#d0dcc8"><circle cx="640.8" cy="220.2" r="0.5"/><circle cx="640.8" cy="227.8" r="0.5"/><circle cx="640.8" cy="235.4" r="0.5"/><circle cx="640.8" cy="243.0" r="0.5"/><circle cx="640.8" cy="250.6" r="0.5"/><circle cx="640.8" cy="258.1" r="0.5"/><circle cx="640.8" cy="265.8" r="0.5"/><circle cx="640.8" cy="273.4" r="0.5"/></g>
<g fill="#c5d5b8"><circle cx="633.0" cy="212.0" r="0.95"/><circle cx="633.0" cy="219.6" r="0.95"/><circle cx="633.0" cy="227.2" r="0.95"/><circle cx="633.0" cy="234.8" r="0.95"/><circle cx="633.0" cy="242.4" r="0.95"/><circle cx="633.0" cy="250.0" r="0.95"/><circle cx="633.0" cy="257.6" r="0.95"/><circle cx="633.0" cy="265.2" r="0.95"/><circle cx="633.0" cy="272.8" r="0.95"/></g>
<g fill="#dcdaa8"><circle cx="643.4" cy="217.8" r="0.95"/><circle cx="643.4" cy="225.4" r="0.95"/><circle cx="643.4" cy="233.0" r="0.95"/><circle cx="643.4" cy="240.6" r="0.95"/><circle cx="643.4" cy="248.2" r="0.95"/><circle cx="643.4" cy="255.8" r="0.95"/><circle cx="643.4" cy="263.4" r="0.95"/><circle cx="643.4" cy="271.0" r="0.95"/><circle cx="643.4" cy="278.6" r="0.95"/></g>
<g fill="#c3d3e0"><circle cx="638.2" cy="214.9" r="1.25"/><circle cx="638.2" cy="222.5" r="1.25"/><circle cx="638.2" cy="230.1" r="1.25"/><circle cx="638.2" cy="237.7" r="1.25"/><circle cx="638.2" cy="245.3" r="1.25"/><circle cx="638.2" cy="252.9" r="1.25"/><circle cx="638.2" cy="260.5" r="1.25"/><circle cx="638.2" cy="268.1" r="1.25"/><circle cx="638.2" cy="275.7" r="1.25"/></g>
</g>
<path d="M633.5,292.0L638.7,294.9M638.7,294.9L643.9,297.8M633.5,299.6L638.7,302.5M633.5,299.6L638.7,294.9M638.7,302.5L643.9,305.4M638.7,302.5L643.9,297.8M633.5,307.2L638.7,310.1M633.5,307.2L638.7,302.5M638.7,310.1L643.9,313.0M638.7,310.1L643.9,305.4M633.5,314.8L638.7,317.7M633.5,314.8L638.7,310.1M638.7,317.7L643.9,320.6M638.7,317.7L643.9,313.0M633.5,322.4L638.7,325.3M633.5,322.4L638.7,317.7M638.7,325.3L643.9,328.2M638.7,325.3L643.9,320.6M633.5,330.0L638.7,332.9M633.5,330.0L638.7,325.3M638.7,332.9L643.9,335.8M638.7,332.9L643.9,328.2M633.5,337.6L638.7,340.5M633.5,337.6L638.7,332.9M638.7,340.5L643.9,343.4M638.7,340.5L643.9,335.8M633.5,345.2L638.7,348.1M633.5,345.2L638.7,340.5M638.7,348.1L643.9,351.0M638.7,348.1L643.9,343.4" stroke="#8c9a8c" stroke-width="0.4" fill="none"/>
<g fill="#9aa86a"><circle cx="641.3" cy="300.1" r="0.5"/><circle cx="641.3" cy="307.8" r="0.5"/><circle cx="641.3" cy="315.4" r="0.5"/><circle cx="641.3" cy="322.9" r="0.5"/><circle cx="641.3" cy="330.5" r="0.5"/><circle cx="641.3" cy="338.1" r="0.5"/><circle cx="641.3" cy="345.8" r="0.5"/></g>
<g fill="#6f9a3c"><circle cx="633.5" cy="292.0" r="0.95"/><circle cx="633.5" cy="299.6" r="0.95"/><circle cx="633.5" cy="307.2" r="0.95"/><circle cx="633.5" cy="314.8" r="0.95"/><circle cx="633.5" cy="322.4" r="0.95"/><circle cx="633.5" cy="330.0" r="0.95"/><circle cx="633.5" cy="337.6" r="0.95"/><circle cx="633.5" cy="345.2" r="0.95"/></g>
<g fill="#c7b536"><circle cx="643.9" cy="297.8" r="0.95"/><circle cx="643.9" cy="305.4" r="0.95"/><circle cx="643.9" cy="313.0" r="0.95"/><circle cx="643.9" cy="320.6" r="0.95"/><circle cx="643.9" cy="328.2" r="0.95"/><circle cx="643.9" cy="335.8" r="0.95"/><circle cx="643.9" cy="343.4" r="0.95"/><circle cx="643.9" cy="351.0" r="0.95"/></g>
<g fill="url(#bsph)"><circle cx="638.7" cy="294.9" r="1.25"/><circle cx="638.7" cy="302.5" r="1.25"/><circle cx="638.7" cy="310.1" r="1.25"/><circle cx="638.7" cy="317.7" r="1.25"/><circle cx="638.7" cy="325.3" r="1.25"/><circle cx="638.7" cy="332.9" r="1.25"/><circle cx="638.7" cy="340.5" r="1.25"/><circle cx="638.7" cy="348.1" r="1.25"/></g>
<rect x="610.5" y="219.5" width="19.5" height="130.5" rx="9.8" ry="16" fill="url(#tanq)"/>
<clipPath id="cap6090t"><path d="M609,207.5 L631.5,206.5 L631.5,229.5 Q621.375,223.5 609,225.5 Z"/></clipPath>
<clipPath id="cap6090b"><path d="M609,341 Q620.25,347 631.5,340 L631.5,356 L609,356 Z"/></clipPath>
<g clip-path="url(#cap6090t)"><rect x="609" y="205.5" width="22.5" height="25.0" fill="#fbfbfb"/><rect x="609" y="205.5" width="22.5" height="25.0" fill="url(#honey)"/></g>
<g clip-path="url(#cap6090b)"><rect x="609" y="339" width="22.5" height="18" fill="#fbfbfb"/><rect x="609" y="339" width="22.5" height="18" fill="url(#honey)"/></g>
<rect x="609.0" y="207.5" width="3.6" height="148.5" fill="url(#honey)"/>
<rect x="627.9" y="207.5" width="3.6" height="148.5" fill="url(#honey)"/>
<g fill="#2b2b2b"><circle cx="610.0" cy="207.5" r="1.0"/><circle cx="630.5" cy="207.5" r="1.0"/><circle cx="610.0" cy="210.1" r="1.0"/><circle cx="630.5" cy="210.1" r="1.0"/><circle cx="610.0" cy="212.7" r="1.0"/><circle cx="630.5" cy="212.7" r="1.0"/><circle cx="610.0" cy="215.3" r="1.0"/><circle cx="630.5" cy="215.3" r="1.0"/><circle cx="610.0" cy="217.9" r="1.0"/><circle cx="630.5" cy="217.9" r="1.0"/><circle cx="610.0" cy="220.5" r="1.0"/><circle cx="630.5" cy="220.5" r="1.0"/><circle cx="610.0" cy="223.1" r="1.0"/><circle cx="630.5" cy="223.1" r="1.0"/><circle cx="610.0" cy="225.7" r="1.0"/><circle cx="630.5" cy="225.7" r="1.0"/><circle cx="610.0" cy="228.3" r="1.0"/><circle cx="630.5" cy="228.3" r="1.0"/><circle cx="610.0" cy="230.9" r="1.0"/><circle cx="630.5" cy="230.9" r="1.0"/><circle cx="610.0" cy="233.5" r="1.0"/><circle cx="630.5" cy="233.5" r="1.0"/><circle cx="610.0" cy="236.1" r="1.0"/><circle cx="630.5" cy="236.1" r="1.0"/><circle cx="610.0" cy="238.7" r="1.0"/><circle cx="630.5" cy="238.7" r="1.0"/><circle cx="610.0" cy="241.3" r="1.0"/><circle cx="630.5" cy="241.3" r="1.0"/><circle cx="610.0" cy="243.9" r="1.0"/><circle cx="630.5" cy="243.9" r="1.0"/><circle cx="610.0" cy="246.5" r="1.0"/><circle cx="630.5" cy="246.5" r="1.0"/><circle cx="610.0" cy="249.1" r="1.0"/><circle cx="630.5" cy="249.1" r="1.0"/><circle cx="610.0" cy="251.7" r="1.0"/><circle cx="630.5" cy="251.7" r="1.0"/><circle cx="610.0" cy="254.3" r="1.0"/><circle cx="630.5" cy="254.3" r="1.0"/><circle cx="610.0" cy="256.9" r="1.0"/><circle cx="630.5" cy="256.9" r="1.0"/><circle cx="610.0" cy="259.5" r="1.0"/><circle cx="630.5" cy="259.5" r="1.0"/><circle cx="610.0" cy="262.1" r="1.0"/><circle cx="630.5" cy="262.1" r="1.0"/><circle cx="610.0" cy="264.7" r="1.0"/><circle cx="630.5" cy="264.7" r="1.0"/><circle cx="610.0" cy="267.3" r="1.0"/><circle cx="630.5" cy="267.3" r="1.0"/><circle cx="610.0" cy="269.9" r="1.0"/><circle cx="630.5" cy="269.9" r="1.0"/><circle cx="610.0" cy="272.5" r="1.0"/><circle cx="630.5" cy="272.5" r="1.0"/><circle cx="610.0" cy="275.1" r="1.0"/><circle cx="630.5" cy="275.1" r="1.0"/><circle cx="610.0" cy="277.7" r="1.0"/><circle cx="630.5" cy="277.7" r="1.0"/><circle cx="610.0" cy="280.3" r="1.0"/><circle cx="630.5" cy="280.3" r="1.0"/><circle cx="610.0" cy="282.9" r="1.0"/><circle cx="630.5" cy="282.9" r="1.0"/><circle cx="610.0" cy="285.5" r="1.0"/><circle cx="630.5" cy="285.5" r="1.0"/><circle cx="610.0" cy="288.1" r="1.0"/><circle cx="630.5" cy="288.1" r="1.0"/><circle cx="610.0" cy="290.7" r="1.0"/><circle cx="630.5" cy="290.7" r="1.0"/><circle cx="610.0" cy="293.3" r="1.0"/><circle cx="630.5" cy="293.3" r="1.0"/><circle cx="610.0" cy="295.9" r="1.0"/><circle cx="630.5" cy="295.9" r="1.0"/><circle cx="610.0" cy="298.5" r="1.0"/><circle cx="630.5" cy="298.5" r="1.0"/><circle cx="610.0" cy="301.1" r="1.0"/><circle cx="630.5" cy="301.1" r="1.0"/><circle cx="610.0" cy="303.7" r="1.0"/><circle cx="630.5" cy="303.7" r="1.0"/><circle cx="610.0" cy="306.3" r="1.0"/><circle cx="630.5" cy="306.3" r="1.0"/><circle cx="610.0" cy="308.9" r="1.0"/><circle cx="630.5" cy="308.9" r="1.0"/><circle cx="610.0" cy="311.5" r="1.0"/><circle cx="630.5" cy="311.5" r="1.0"/><circle cx="610.0" cy="314.1" r="1.0"/><circle cx="630.5" cy="314.1" r="1.0"/><circle cx="610.0" cy="316.7" r="1.0"/><circle cx="630.5" cy="316.7" r="1.0"/><circle cx="610.0" cy="319.3" r="1.0"/><circle cx="630.5" cy="319.3" r="1.0"/><circle cx="610.0" cy="321.9" r="1.0"/><circle cx="630.5" cy="321.9" r="1.0"/><circle cx="610.0" cy="324.5" r="1.0"/><circle cx="630.5" cy="324.5" r="1.0"/><circle cx="610.0" cy="327.1" r="1.0"/><circle cx="630.5" cy="327.1" r="1.0"/><circle cx="610.0" cy="329.7" r="1.0"/><circle cx="630.5" cy="329.7" r="1.0"/><circle cx="610.0" cy="332.3" r="1.0"/><circle cx="630.5" cy="332.3" r="1.0"/><circle cx="610.0" cy="334.9" r="1.0"/><circle cx="630.5" cy="334.9" r="1.0"/><circle cx="610.0" cy="337.5" r="1.0"/><circle cx="630.5" cy="337.5" r="1.0"/><circle cx="610.0" cy="340.1" r="1.0"/><circle cx="630.5" cy="340.1" r="1.0"/><circle cx="610.0" cy="342.7" r="1.0"/><circle cx="630.5" cy="342.7" r="1.0"/><circle cx="610.0" cy="345.3" r="1.0"/><circle cx="630.5" cy="345.3" r="1.0"/><circle cx="610.0" cy="347.9" r="1.0"/><circle cx="630.5" cy="347.9" r="1.0"/><circle cx="610.0" cy="350.5" r="1.0"/><circle cx="630.5" cy="350.5" r="1.0"/><circle cx="610.0" cy="353.1" r="1.0"/><circle cx="630.5" cy="353.1" r="1.0"/><circle cx="610.0" cy="355.7" r="1.0"/><circle cx="630.5" cy="355.7" r="1.0"/></g>
<rect x="648.1" y="219.5" width="19.4" height="130.5" rx="9.7" ry="16" fill="url(#tanq)"/>
<clipPath id="cap6466t"><path d="M646.6,207.5 L669,206.5 L669,229.5 Q658.92,223.5 646.6,225.5 Z"/></clipPath>
<clipPath id="cap6466b"><path d="M646.6,341 Q657.8,347 669,340 L669,356 L646.6,356 Z"/></clipPath>
<g clip-path="url(#cap6466t)"><rect x="646.6" y="205.5" width="22.399999999999977" height="25.0" fill="#fbfbfb"/><rect x="646.6" y="205.5" width="22.399999999999977" height="25.0" fill="url(#honey)"/></g>
<g clip-path="url(#cap6466b)"><rect x="646.6" y="339" width="22.399999999999977" height="18" fill="#fbfbfb"/><rect x="646.6" y="339" width="22.399999999999977" height="18" fill="url(#honey)"/></g>
<rect x="646.6" y="207.5" width="3.6" height="148.5" fill="url(#honey)"/>
<rect x="665.4" y="207.5" width="3.6" height="148.5" fill="url(#honey)"/>
<g fill="#2b2b2b"><circle cx="647.6" cy="207.5" r="1.0"/><circle cx="668.0" cy="207.5" r="1.0"/><circle cx="647.6" cy="210.1" r="1.0"/><circle cx="668.0" cy="210.1" r="1.0"/><circle cx="647.6" cy="212.7" r="1.0"/><circle cx="668.0" cy="212.7" r="1.0"/><circle cx="647.6" cy="215.3" r="1.0"/><circle cx="668.0" cy="215.3" r="1.0"/><circle cx="647.6" cy="217.9" r="1.0"/><circle cx="668.0" cy="217.9" r="1.0"/><circle cx="647.6" cy="220.5" r="1.0"/><circle cx="668.0" cy="220.5" r="1.0"/><circle cx="647.6" cy="223.1" r="1.0"/><circle cx="668.0" cy="223.1" r="1.0"/><circle cx="647.6" cy="225.7" r="1.0"/><circle cx="668.0" cy="225.7" r="1.0"/><circle cx="647.6" cy="228.3" r="1.0"/><circle cx="668.0" cy="228.3" r="1.0"/><circle cx="647.6" cy="230.9" r="1.0"/><circle cx="668.0" cy="230.9" r="1.0"/><circle cx="647.6" cy="233.5" r="1.0"/><circle cx="668.0" cy="233.5" r="1.0"/><circle cx="647.6" cy="236.1" r="1.0"/><circle cx="668.0" cy="236.1" r="1.0"/><circle cx="647.6" cy="238.7" r="1.0"/><circle cx="668.0" cy="238.7" r="1.0"/><circle cx="647.6" cy="241.3" r="1.0"/><circle cx="668.0" cy="241.3" r="1.0"/><circle cx="647.6" cy="243.9" r="1.0"/><circle cx="668.0" cy="243.9" r="1.0"/><circle cx="647.6" cy="246.5" r="1.0"/><circle cx="668.0" cy="246.5" r="1.0"/><circle cx="647.6" cy="249.1" r="1.0"/><circle cx="668.0" cy="249.1" r="1.0"/><circle cx="647.6" cy="251.7" r="1.0"/><circle cx="668.0" cy="251.7" r="1.0"/><circle cx="647.6" cy="254.3" r="1.0"/><circle cx="668.0" cy="254.3" r="1.0"/><circle cx="647.6" cy="256.9" r="1.0"/><circle cx="668.0" cy="256.9" r="1.0"/><circle cx="647.6" cy="259.5" r="1.0"/><circle cx="668.0" cy="259.5" r="1.0"/><circle cx="647.6" cy="262.1" r="1.0"/><circle cx="668.0" cy="262.1" r="1.0"/><circle cx="647.6" cy="264.7" r="1.0"/><circle cx="668.0" cy="264.7" r="1.0"/><circle cx="647.6" cy="267.3" r="1.0"/><circle cx="668.0" cy="267.3" r="1.0"/><circle cx="647.6" cy="269.9" r="1.0"/><circle cx="668.0" cy="269.9" r="1.0"/><circle cx="647.6" cy="272.5" r="1.0"/><circle cx="668.0" cy="272.5" r="1.0"/><circle cx="647.6" cy="275.1" r="1.0"/><circle cx="668.0" cy="275.1" r="1.0"/><circle cx="647.6" cy="277.7" r="1.0"/><circle cx="668.0" cy="277.7" r="1.0"/><circle cx="647.6" cy="280.3" r="1.0"/><circle cx="668.0" cy="280.3" r="1.0"/><circle cx="647.6" cy="282.9" r="1.0"/><circle cx="668.0" cy="282.9" r="1.0"/><circle cx="647.6" cy="285.5" r="1.0"/><circle cx="668.0" cy="285.5" r="1.0"/><circle cx="647.6" cy="288.1" r="1.0"/><circle cx="668.0" cy="288.1" r="1.0"/><circle cx="647.6" cy="290.7" r="1.0"/><circle cx="668.0" cy="290.7" r="1.0"/><circle cx="647.6" cy="293.3" r="1.0"/><circle cx="668.0" cy="293.3" r="1.0"/><circle cx="647.6" cy="295.9" r="1.0"/><circle cx="668.0" cy="295.9" r="1.0"/><circle cx="647.6" cy="298.5" r="1.0"/><circle cx="668.0" cy="298.5" r="1.0"/><circle cx="647.6" cy="301.1" r="1.0"/><circle cx="668.0" cy="301.1" r="1.0"/><circle cx="647.6" cy="303.7" r="1.0"/><circle cx="668.0" cy="303.7" r="1.0"/><circle cx="647.6" cy="306.3" r="1.0"/><circle cx="668.0" cy="306.3" r="1.0"/><circle cx="647.6" cy="308.9" r="1.0"/><circle cx="668.0" cy="308.9" r="1.0"/><circle cx="647.6" cy="311.5" r="1.0"/><circle cx="668.0" cy="311.5" r="1.0"/><circle cx="647.6" cy="314.1" r="1.0"/><circle cx="668.0" cy="314.1" r="1.0"/><circle cx="647.6" cy="316.7" r="1.0"/><circle cx="668.0" cy="316.7" r="1.0"/><circle cx="647.6" cy="319.3" r="1.0"/><circle cx="668.0" cy="319.3" r="1.0"/><circle cx="647.6" cy="321.9" r="1.0"/><circle cx="668.0" cy="321.9" r="1.0"/><circle cx="647.6" cy="324.5" r="1.0"/><circle cx="668.0" cy="324.5" r="1.0"/><circle cx="647.6" cy="327.1" r="1.0"/><circle cx="668.0" cy="327.1" r="1.0"/><circle cx="647.6" cy="329.7" r="1.0"/><circle cx="668.0" cy="329.7" r="1.0"/><circle cx="647.6" cy="332.3" r="1.0"/><circle cx="668.0" cy="332.3" r="1.0"/><circle cx="647.6" cy="334.9" r="1.0"/><circle cx="668.0" cy="334.9" r="1.0"/><circle cx="647.6" cy="337.5" r="1.0"/><circle cx="668.0" cy="337.5" r="1.0"/><circle cx="647.6" cy="340.1" r="1.0"/><circle cx="668.0" cy="340.1" r="1.0"/><circle cx="647.6" cy="342.7" r="1.0"/><circle cx="668.0" cy="342.7" r="1.0"/><circle cx="647.6" cy="345.3" r="1.0"/><circle cx="668.0" cy="345.3" r="1.0"/><circle cx="647.6" cy="347.9" r="1.0"/><circle cx="668.0" cy="347.9" r="1.0"/><circle cx="647.6" cy="350.5" r="1.0"/><circle cx="668.0" cy="350.5" r="1.0"/><circle cx="647.6" cy="353.1" r="1.0"/><circle cx="668.0" cy="353.1" r="1.0"/><circle cx="647.6" cy="355.7" r="1.0"/><circle cx="668.0" cy="355.7" r="1.0"/></g>
<text transform="translate(618.5 236) rotate(90)" font-size="8.2" font-weight="bold" fill="#2c4c9c" stroke="#2c4c9c" stroke-width="0.15" font-family='"Liberation Serif", serif'>π electrons</text>
<text transform="translate(655.5 236) rotate(90)" font-size="8.2" font-weight="bold" fill="#2c4c9c" stroke="#2c4c9c" stroke-width="0.15" font-family='"Liberation Serif", serif'>π electrons</text>
<text transform="translate(635.3 212.4) rotate(90)" font-size="8.7" font-weight="bold" fill="#cc1010" stroke="#cc1010" stroke-width="0.28">Dipole moment</text>
<path d="M667,208.6 L679.1,208.6 L679.1,274.6 M675.3,274.6 L682.9,274.6 M673.5,279.6 L684.7,279.6 M679.1,279.6 L679.1,360.4" stroke="#222" stroke-width="1" fill="none"/>
<path d="M636,360.4 L636.7,359.3 L638.1,361.5 L639.5,359.3 L640.9,361.5 L642.3,359.3 L643.7,361.5 L645.1,359.3 L646.5,361.5 L647.9,359.3 L649.3,361.5 L650.7,359.3 L652.1,361.5 L653.5,359.3 L654.9,361.5 L656.3,359.3 L657.7,361.5 L659.1,359.3 L660.5,361.5 L661.9,359.3 L663.3,361.5 L664.7,359.3 L666.1,361.5 L667.5,359.3 L668.9,361.5 L670.3,359.3 L671.7,361.5 L673.1,359.3 L674.5,361.5 L675.9,359.3 L677.3,361.5 L678.7,359.3" stroke="#bcaec4" stroke-width="0.7" fill="none"/>
<rect x="616.30" y="280.10" width="45.00" height="11.70" fill="#fde4a4" />
<text x="638.80" y="288.80" font-size="8.9" font-weight="bold" text-anchor="middle" fill="#000"  stroke="#000" stroke-width="0.28">Tunneling</text>
<path d="M615.6,313.5 C616,295 630,294.2 640.8,294.2 C652,294.2 666,295 666,313.5 L663.5,309 C662.5,300 652,298 640.8,298 C630,298 619,300 618.3,309 Z" fill="#2f6fd0"/>
<path d="M628.4,299.2 Q640,293.8 651.2,299.2" stroke="#e07a50" stroke-width="0.9" fill="none"/>
<rect x="607.60" y="318.60" width="61.70" height="12.00" fill="#b0dbe1" />
<rect x="614.90" y="330.40" width="47.90" height="13.80" fill="#b0dbe1" />
<text x="638.40" y="327.80" font-size="8.6" font-weight="bold" text-anchor="middle" fill="#cc1010"  stroke="#cc1010" stroke-width="0.28">Energy barrier</text>
<text x="638.40" y="340.60" font-size="8.5" font-weight="bold" text-anchor="middle" fill="#cc1010"  stroke="#cc1010" stroke-width="0.28">0.0038 eV</text>
<text x="446.80" y="216.50" font-size="21" font-weight="bold" text-anchor="start" fill="#000"  stroke="#000" stroke-width="0.28">f</text>
</svg></body></html>
